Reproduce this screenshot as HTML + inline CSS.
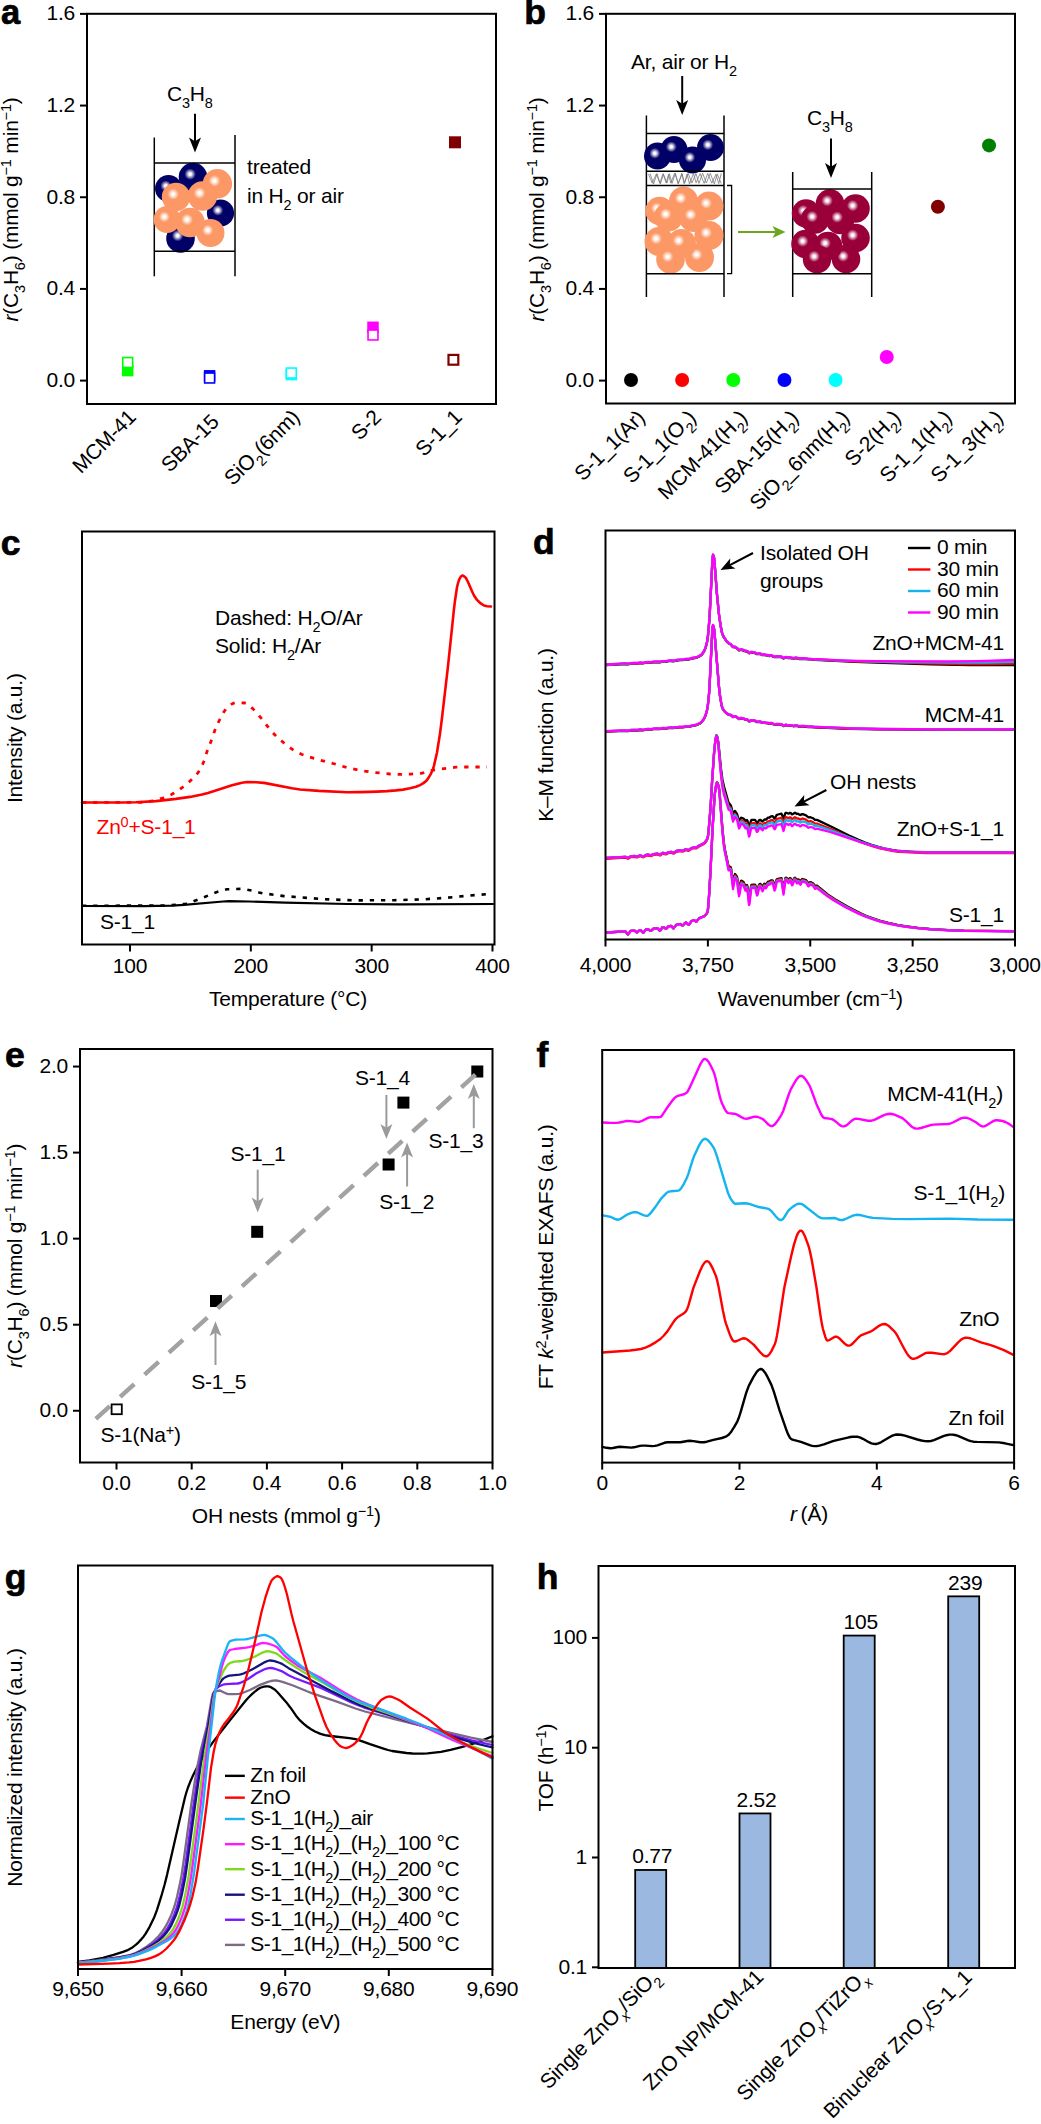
<!DOCTYPE html>
<html><head><meta charset="utf-8"><style>
html,body{margin:0;padding:0;background:#fff;}
svg{display:block;font-family:"Liberation Sans",sans-serif;}
text{letter-spacing:-0.2px;}
</style></head><body>
<svg width="1041" height="2124" viewBox="0 0 1041 2124">
<rect x="0" y="0" width="1041" height="2124" fill="#fff"/>
<defs>
<radialGradient id="gN" cx="0.4" cy="0.4" r="0.2" fx="0.4" fy="0.4">
<stop offset="0" stop-color="#ffffff"/><stop offset="0.25" stop-color="#f4f4fa"/><stop offset="1" stop-color="#000066"/></radialGradient>
<radialGradient id="gO" cx="0.4" cy="0.4" r="0.2" fx="0.4" fy="0.4">
<stop offset="0" stop-color="#ffffff"/><stop offset="0.25" stop-color="#fffaf6"/><stop offset="1" stop-color="#fb9866"/></radialGradient>
<radialGradient id="gR" cx="0.4" cy="0.4" r="0.2" fx="0.4" fy="0.4">
<stop offset="0" stop-color="#ffffff"/><stop offset="0.25" stop-color="#fbf2f5"/><stop offset="1" stop-color="#99003a"/></radialGradient>
</defs>
<text x="1" y="23.8" font-size="34.5" font-weight="bold" stroke="#000" stroke-width="0.7">a</text>
<line x1="80" y1="380.6" x2="87" y2="380.6" stroke="#000" stroke-width="2" />
<text x="75" y="387.1" text-anchor="end" font-size="21" fill="#000" >0.0</text>
<line x1="80" y1="288.92" x2="87" y2="288.92" stroke="#000" stroke-width="2" />
<text x="75" y="295.42" text-anchor="end" font-size="21" fill="#000" >0.4</text>
<line x1="80" y1="197.24" x2="87" y2="197.24" stroke="#000" stroke-width="2" />
<text x="75" y="203.74" text-anchor="end" font-size="21" fill="#000" >0.8</text>
<line x1="80" y1="105.56" x2="87" y2="105.56" stroke="#000" stroke-width="2" />
<text x="75" y="112.06" text-anchor="end" font-size="21" fill="#000" >1.2</text>
<line x1="80" y1="13.88" x2="87" y2="13.88" stroke="#000" stroke-width="2" />
<text x="75" y="20.38" text-anchor="end" font-size="21" fill="#000" >1.6</text>
<text transform="translate(18.4,209.5) rotate(-90)" text-anchor="middle" font-size="21"><tspan font-style="italic">r</tspan>(C<tspan font-size="14.5" baseline-shift="-7">3</tspan>H<tspan font-size="14.5" baseline-shift="-7">6</tspan>) (mmol g<tspan font-size="14.5" baseline-shift="6.7">−1</tspan> min<tspan font-size="14.5" baseline-shift="6.7">−1</tspan>)</text>
<line x1="154.3" y1="137.5" x2="154.3" y2="276.3" stroke="#000" stroke-width="1.5" />
<line x1="235" y1="135" x2="235" y2="276.3" stroke="#000" stroke-width="1.5" />
<circle cx="168.5" cy="188.5" r="13.5" fill="url(#gN)"/>
<circle cx="193" cy="177" r="14.3" fill="url(#gN)"/>
<circle cx="220.5" cy="213" r="13.6" fill="url(#gN)"/>
<circle cx="180.5" cy="238.5" r="14.3" fill="url(#gN)"/>
<circle cx="217.4" cy="183.8" r="14.7" fill="url(#gO)"/>
<circle cx="202.5" cy="196" r="14.7" fill="url(#gO)"/>
<circle cx="176" cy="197" r="14.2" fill="url(#gO)"/>
<circle cx="167" cy="219.5" r="13.5" fill="url(#gO)"/>
<circle cx="210.5" cy="233" r="14" fill="url(#gO)"/>
<circle cx="190" cy="222.5" r="14.7" fill="url(#gO)"/>
<line x1="154.3" y1="163" x2="235" y2="163" stroke="#000" stroke-width="1.5" />
<line x1="154.3" y1="251.3" x2="235" y2="251.3" stroke="#000" stroke-width="1.5" />
<line x1="195" y1="113.8" x2="195" y2="143.5" stroke="#000" stroke-width="2" />
<path d="M195 152.5 L189 137.5 L195 141.25 L201 137.5 Z" fill="#000"/>
<text x="167" y="101.3" text-anchor="start" font-size="21" fill="#000" >C<tspan font-size="14.5" baseline-shift="-7">3</tspan>H<tspan font-size="14.5" baseline-shift="-7">8</tspan></text>
<text x="247" y="173.5" text-anchor="start" font-size="21" fill="#000" >treated</text>
<text x="247" y="203" text-anchor="start" font-size="21" fill="#000" >in H<tspan font-size="14.5" baseline-shift="-7">2</tspan> or air</text>
<rect x="121.95" y="364.85" width="11.5" height="11.5" fill="#00ff00" stroke="none" stroke-width="0" />
<rect x="122.75" y="357.55" width="9.9" height="9.9" fill="#fff" stroke="#00ff00" stroke-width="1.6" />
<rect x="203.85" y="370.05" width="11.5" height="11.5" fill="#0000ff" stroke="none" stroke-width="0" />
<rect x="204.65" y="373.05" width="9.9" height="9.9" fill="#fff" stroke="#0000ff" stroke-width="1.6" />
<rect x="285.55" y="368.85" width="11.5" height="11.5" fill="#00ffff" stroke="none" stroke-width="0" />
<rect x="286.35" y="368.05" width="9.9" height="9.9" fill="#fff" stroke="#00ffff" stroke-width="1.6" />
<rect x="367.25" y="321.55" width="11.5" height="11.5" fill="#ff00ff" stroke="none" stroke-width="0" />
<rect x="368.05" y="330.05" width="9.9" height="9.9" fill="#fff" stroke="#ff00ff" stroke-width="1.6" />
<rect x="449" y="136.3" width="12" height="12" fill="#800000" stroke="none" stroke-width="0" />
<rect x="448.5" y="354.9" width="9.8" height="9.8" fill="#fff" stroke="#800000" stroke-width="2.2" />
<rect x="87" y="13.8" width="409" height="390.2" fill="none" stroke="#000" stroke-width="2" />
<text transform="translate(137.2,418.5) rotate(-45)" text-anchor="end" font-size="21" fill="#000">MCM-41</text>
<text transform="translate(220.1,423) rotate(-45)" text-anchor="end" font-size="21" fill="#000">SBA-15</text>
<text transform="translate(300.8,418.5) rotate(-45)" text-anchor="end" font-size="21" fill="#000">SiO<tspan font-size="14.5" baseline-shift="-7">2</tspan>(6nm)</text>
<text transform="translate(382.5,418.5) rotate(-45)" text-anchor="end" font-size="21" fill="#000">S-2</text>
<text transform="translate(463,418.5) rotate(-45)" text-anchor="end" font-size="21" fill="#000">S-1_1</text>
<text x="524.3" y="23.9" font-size="35.5" font-weight="bold" stroke="#000" stroke-width="0.7">b</text>
<line x1="599" y1="380.6" x2="606" y2="380.6" stroke="#000" stroke-width="2" />
<text x="594" y="387.1" text-anchor="end" font-size="21" fill="#000" >0.0</text>
<line x1="599" y1="288.92" x2="606" y2="288.92" stroke="#000" stroke-width="2" />
<text x="594" y="295.42" text-anchor="end" font-size="21" fill="#000" >0.4</text>
<line x1="599" y1="197.24" x2="606" y2="197.24" stroke="#000" stroke-width="2" />
<text x="594" y="203.74" text-anchor="end" font-size="21" fill="#000" >0.8</text>
<line x1="599" y1="105.56" x2="606" y2="105.56" stroke="#000" stroke-width="2" />
<text x="594" y="112.06" text-anchor="end" font-size="21" fill="#000" >1.2</text>
<line x1="599" y1="13.88" x2="606" y2="13.88" stroke="#000" stroke-width="2" />
<text x="594" y="20.38" text-anchor="end" font-size="21" fill="#000" >1.6</text>
<text transform="translate(543.7,209.5) rotate(-90)" text-anchor="middle" font-size="21"><tspan font-style="italic">r</tspan>(C<tspan font-size="14.5" baseline-shift="-7">3</tspan>H<tspan font-size="14.5" baseline-shift="-7">6</tspan>) (mmol g<tspan font-size="14.5" baseline-shift="6.7">−1</tspan> min<tspan font-size="14.5" baseline-shift="6.7">−1</tspan>)</text>
<line x1="646.4" y1="115.5" x2="646.4" y2="297" stroke="#000" stroke-width="1.5" />
<line x1="724" y1="115.5" x2="724" y2="297" stroke="#000" stroke-width="1.5" />
<circle cx="657.5" cy="156" r="13.5" fill="url(#gN)"/>
<circle cx="674" cy="149.5" r="13.5" fill="url(#gN)"/>
<circle cx="692.5" cy="160" r="13.5" fill="url(#gN)"/>
<circle cx="710.5" cy="147.5" r="13.5" fill="url(#gN)"/>
<path d="M648.5 173.95 L652.18 183.05 L656.27 174.09 L660.31 183.97 L663.44 174.33 L666.94 182.92 L669.37 173.76 L672.06 183.35 L675.41 173.22 L678.04 183.66 L682.08 174.12 L684.6 183.04 L687.07 173.94 L689.53 184 L693.47 173.45 L696.1 182.82 L700.04 173.55 L704.17 183.35 L707.72 173.45 L711.81 183.17 L715.94 174.27 L718.74 183.57 L721.27 173.37" fill="none" stroke="#7a7a7a" stroke-width="0.8"/>
<path d="M650.1 173.56 L653.51 184 L657.06 173.61 L659.88 183.02 L663.04 173.58 L666.21 183.15 L668.52 174.37 L670.77 183.1 L674.66 173.22 L678.43 183.56 L681.79 173.21 L684.08 183.78 L688.19 173.44 L691.9 182.88 L695.99 173.61 L698.9 183.37 L702.65 173.33 L706.34 183.04 L710.26 173.24 L714.36 183.89 L717.24 173.93 L721.27 183.59" fill="none" stroke="#7a7a7a" stroke-width="0.8"/>
<circle cx="659.5" cy="211" r="14.2" fill="url(#gO)"/>
<circle cx="709" cy="206" r="14.5" fill="url(#gO)"/>
<circle cx="683.5" cy="201" r="14.5" fill="url(#gO)"/>
<circle cx="668.5" cy="217" r="14.5" fill="url(#gO)"/>
<circle cx="693.5" cy="217.5" r="14.5" fill="url(#gO)"/>
<circle cx="709" cy="235.5" r="14.5" fill="url(#gO)"/>
<circle cx="659" cy="241.5" r="14.5" fill="url(#gO)"/>
<circle cx="699.5" cy="257.5" r="14.5" fill="url(#gO)"/>
<circle cx="681.5" cy="243.5" r="14.5" fill="url(#gO)"/>
<circle cx="670.5" cy="259.5" r="14.3" fill="url(#gO)"/>
<line x1="646.4" y1="133.6" x2="724" y2="133.6" stroke="#000" stroke-width="1.5" />
<line x1="646.4" y1="171.2" x2="724" y2="171.2" stroke="#000" stroke-width="1.5" />
<line x1="646.4" y1="185.5" x2="724" y2="185.5" stroke="#000" stroke-width="1.5" />
<line x1="646.4" y1="273.7" x2="724" y2="273.7" stroke="#000" stroke-width="1.5" />
<path d="M727 185.5 H731.6 V273.7 H727" fill="none" stroke="#000" stroke-width="1.3"/>
<line x1="738" y1="232" x2="777.7" y2="232" stroke="#6aa61e" stroke-width="2.2" />
<path d="M785.5 232 L772.5 238 L775.75 232 L772.5 226 Z" fill="#6aa61e"/>
<line x1="682.2" y1="76" x2="682.2" y2="106" stroke="#000" stroke-width="2" />
<path d="M682.2 115 L676.2 100 L682.2 103.75 L688.2 100 Z" fill="#000"/>
<text x="631" y="68.8" text-anchor="start" font-size="21" fill="#000" >Ar, air or H<tspan font-size="14.5" baseline-shift="-7">2</tspan></text>
<line x1="792.7" y1="172" x2="792.7" y2="297" stroke="#000" stroke-width="1.5" />
<line x1="871.7" y1="172" x2="871.7" y2="297" stroke="#000" stroke-width="1.5" />
<circle cx="806" cy="213.5" r="14.2" fill="url(#gR)"/>
<circle cx="855.5" cy="208.5" r="14.3" fill="url(#gR)"/>
<circle cx="830" cy="203.5" r="14.3" fill="url(#gR)"/>
<circle cx="815" cy="219.5" r="14.3" fill="url(#gR)"/>
<circle cx="840" cy="220" r="14.3" fill="url(#gR)"/>
<circle cx="855.5" cy="238" r="14.3" fill="url(#gR)"/>
<circle cx="805.5" cy="244" r="14.3" fill="url(#gR)"/>
<circle cx="846" cy="259" r="14.3" fill="url(#gR)"/>
<circle cx="828" cy="246" r="14.3" fill="url(#gR)"/>
<circle cx="817" cy="259.2" r="14.2" fill="url(#gR)"/>
<line x1="792.7" y1="189" x2="871.7" y2="189" stroke="#000" stroke-width="1.5" />
<line x1="792.7" y1="273.7" x2="871.7" y2="273.7" stroke="#000" stroke-width="1.5" />
<line x1="831" y1="138.4" x2="831" y2="169" stroke="#000" stroke-width="2" />
<path d="M831 178 L825 163 L831 166.75 L837 163 Z" fill="#000"/>
<text x="807" y="125" text-anchor="start" font-size="21" fill="#000" >C<tspan font-size="14.5" baseline-shift="-7">3</tspan>H<tspan font-size="14.5" baseline-shift="-7">8</tspan></text>
<circle cx="631" cy="380" r="7" fill="#000000"/>
<circle cx="682.15" cy="380" r="7" fill="#ff0000"/>
<circle cx="733.3" cy="380" r="7" fill="#00ff00"/>
<circle cx="784.45" cy="380" r="7" fill="#0000ff"/>
<circle cx="835.6" cy="380" r="7" fill="#00ffff"/>
<circle cx="886.75" cy="357" r="7" fill="#ff00ff"/>
<circle cx="937.9" cy="206.8" r="7" fill="#800000"/>
<circle cx="989.05" cy="145.4" r="7" fill="#008000"/>
<rect x="606" y="13.8" width="409" height="389.7" fill="none" stroke="#000" stroke-width="2" />
<text transform="translate(646,419) rotate(-45)" text-anchor="end" font-size="21" fill="#000">S-1_1(Ar)</text>
<text transform="translate(697.15,419) rotate(-45)" text-anchor="end" font-size="21" fill="#000">S-1_1(O<tspan font-size="14.5" baseline-shift="-7">2</tspan>)</text>
<text transform="translate(748.3,419) rotate(-45)" text-anchor="end" font-size="21" fill="#000">MCM-41(H<tspan font-size="14.5" baseline-shift="-7">2</tspan>)</text>
<text transform="translate(799.45,419) rotate(-45)" text-anchor="end" font-size="21" fill="#000">SBA-15(H<tspan font-size="14.5" baseline-shift="-7">2</tspan>)</text>
<text transform="translate(850.6,419) rotate(-45)" text-anchor="end" font-size="21" fill="#000">SiO<tspan font-size="14.5" baseline-shift="-7">2</tspan>_6nm(H<tspan font-size="14.5" baseline-shift="-7">2</tspan>)</text>
<text transform="translate(901.75,419) rotate(-45)" text-anchor="end" font-size="21" fill="#000">S-2(H<tspan font-size="14.5" baseline-shift="-7">2</tspan>)</text>
<text transform="translate(952.9,419) rotate(-45)" text-anchor="end" font-size="21" fill="#000">S-1_1(H<tspan font-size="14.5" baseline-shift="-7">2</tspan>)</text>
<text transform="translate(1004.05,419) rotate(-45)" text-anchor="end" font-size="21" fill="#000">S-1_3(H<tspan font-size="14.5" baseline-shift="-7">2</tspan>)</text>
<text x="0.8" y="554.6" font-size="35.5" font-weight="bold" stroke="#000" stroke-width="0.7">c</text>
<line x1="130" y1="944.5" x2="130" y2="951.5" stroke="#000" stroke-width="2" />
<text x="130" y="972.5" text-anchor="middle" font-size="21" fill="#000" >100</text>
<line x1="250.83" y1="944.5" x2="250.83" y2="951.5" stroke="#000" stroke-width="2" />
<text x="250.83" y="972.5" text-anchor="middle" font-size="21" fill="#000" >200</text>
<line x1="371.66" y1="944.5" x2="371.66" y2="951.5" stroke="#000" stroke-width="2" />
<text x="371.66" y="972.5" text-anchor="middle" font-size="21" fill="#000" >300</text>
<line x1="492.49" y1="944.5" x2="492.49" y2="951.5" stroke="#000" stroke-width="2" />
<text x="492.49" y="972.5" text-anchor="middle" font-size="21" fill="#000" >400</text>
<text x="288" y="1005.7" text-anchor="middle" font-size="21" fill="#000" >Temperature (°C)</text>
<text transform="translate(22.1,738.2) rotate(-90)" text-anchor="middle" font-size="21">Intensity (a.u.)</text>
<text x="215" y="624.5" text-anchor="start" font-size="21" fill="#000" >Dashed: H<tspan font-size="14.5" baseline-shift="-7">2</tspan>O/Ar</text>
<text x="215" y="652.5" text-anchor="start" font-size="21" fill="#000" >Solid: H<tspan font-size="14.5" baseline-shift="-7">2</tspan>/Ar</text>
<text x="96.5" y="834" text-anchor="start" font-size="21" fill="#ff0000" >Zn<tspan font-size="14.5" baseline-shift="6.7">0</tspan>+S-1_1</text>
<text x="100" y="929" text-anchor="start" font-size="21" fill="#000" >S-1_1</text>
<path d="M82 802.5 L140 802.4 L146 802 L154 800.7 L163 798 L167 796.5 L171 794.7 L174 793.1 L177 791.3 L184 786.3 L189 782.1 L195 776.3 L197 774 L199 771.2 L202 765.7 L204 761.1 L207 751.6 L212 738.7 L215 729.9 L217 725.1 L220 719 L224 711.8 L226 708.9 L228 707 L231 704.6 L233 703.4 L235 702.7 L240 702.8 L245 703 L246 703.3 L248 704.6 L253 708.9 L256 712 L262 719.1 L270 729.6 L275 735 L279 738.8 L284 743 L291 748.4 L296 751.7 L302 754.5 L310 757.2 L319 759.9 L335 764 L348 767.9 L360 770.4 L372 772.2 L390 774 L401 774.4 L411 774.1 L421 773.4 L424 772.6 L430 770.7 L433 770.1 L440 769.1 L456 767.2 L461 767 L487 767" fill="none" stroke="#ff0000" stroke-width="2.8" stroke-linejoin="round" stroke-dasharray="4.3 6.9" stroke-linecap="butt"/>
<path d="M82 802.5 L122 802.5 L136 802.2 L156 801.1 L176 798.9 L190 796.9 L202 794.5 L208 792.9 L232 785.3 L242 782.7 L247 782 L256 782.3 L264 782.9 L292 788.3 L300 789.5 L319 790.9 L347 792.2 L360 792.1 L377 791.6 L387 791.1 L396 790.4 L403 789.6 L410 788.3 L416 786.7 L420 785.1 L423 783.4 L426 781.1 L428 778.7 L431 773.6 L433 768.9 L434 765.6 L437 752.5 L440 733.6 L442 717.8 L448 666.2 L454 608.8 L455 600.7 L457 587.3 L458 583.2 L459 580.1 L460 578 L461 576.5 L462 575.6 L463 575.6 L465 577 L466 578.2 L468 582 L472 591.3 L474 595.5 L477 599.9 L480 602.8 L484 605.5 L487 606.2 L491 606.5" fill="none" stroke="#ff0000" stroke-width="2.6" stroke-linejoin="round" stroke-linecap="round" />
<path d="M82 905.8 L165 905.5 L170 905.3 L181 904.4 L186 903.7 L190 902.6 L202 898.1 L215 892.7 L222 890.4 L227 889.3 L234 889 L241 888.9 L245 889.3 L252 890.6 L259 892.5 L263 893.3 L284 896.1 L325 899.2 L354 900.4 L394 900.2 L423 899.4 L446 897.8 L470 895.5 L490 894" fill="none" stroke="#000" stroke-width="2.6" stroke-linejoin="round" stroke-dasharray="4.3 6.9" stroke-linecap="butt"/>
<path d="M82 906 L144 906.1 L172 905.7 L184 904.9 L223 901.5 L229 901.2 L249 901.5 L285 902.7 L348 904 L400 904.3 L493 904" fill="none" stroke="#000" stroke-width="2.2" stroke-linejoin="round" stroke-linecap="round" />
<rect x="82" y="531.5" width="412.5" height="413" fill="none" stroke="#000" stroke-width="2" />
<text x="532.9" y="554" font-size="35.5" font-weight="bold" stroke="#000" stroke-width="0.7">d</text>
<line x1="605.5" y1="939.5" x2="605.5" y2="946.5" stroke="#000" stroke-width="2" />
<text x="605.5" y="972" text-anchor="middle" font-size="21" fill="#000" >4,000</text>
<line x1="707.88" y1="939.5" x2="707.88" y2="946.5" stroke="#000" stroke-width="2" />
<text x="707.88" y="972" text-anchor="middle" font-size="21" fill="#000" >3,750</text>
<line x1="810.25" y1="939.5" x2="810.25" y2="946.5" stroke="#000" stroke-width="2" />
<text x="810.25" y="972" text-anchor="middle" font-size="21" fill="#000" >3,500</text>
<line x1="912.62" y1="939.5" x2="912.62" y2="946.5" stroke="#000" stroke-width="2" />
<text x="912.62" y="972" text-anchor="middle" font-size="21" fill="#000" >3,250</text>
<line x1="1015" y1="939.5" x2="1015" y2="946.5" stroke="#000" stroke-width="2" />
<text x="1015" y="972" text-anchor="middle" font-size="21" fill="#000" >3,000</text>
<text x="810.3" y="1005.5" text-anchor="middle" font-size="21" fill="#000" >Wavenumber (cm<tspan font-size="14.5" baseline-shift="6.7">−1</tspan>)</text>
<text transform="translate(552.9,735) rotate(-90)" text-anchor="middle" font-size="21">K–M function (a.u.)</text>
<path d="M606.5 665.1 L625 664 L628 664.3 L631 663.7 L634.5 663.4 L637 663.6 L640.5 663.1 L643 663.4 L646 662.7 L648 662.6 L651 662.7 L653.5 662.3 L657 662.1 L660 662.3 L662.5 661.7 L666 661.8 L668.5 661.2 L671 661 L673.5 661.3 L676.5 660.5 L680 660.2 L682.5 660.2 L686 659.5 L689 659.5 L691.5 658.6 L696.5 657.8 L700 656.1 L701.5 655 L702.5 653.8 L704 651.6 L705.5 648.2 L707 642.6 L708 635.8 L709.5 618.7 L712 568.6 L712.5 559.8 L713 555.1 L713.5 555.9 L714 557.8 L714.5 562.1 L717 594.9 L719 614.9 L720.5 625.3 L722 633.1 L723.5 636.8 L726.5 641.4 L728.5 643.3 L731 644.9 L733 647.2 L735 647.2 L735.5 647.5 L737.5 648.9 L739 650.3 L741 649.8 L741.5 649.9 L745.5 651.3 L747 651.5 L747.5 651.7 L749 653.1 L749.5 653.2 L751 652.5 L754 652.7 L757 654.2 L759.5 654 L760.5 654.2 L762.5 655.1 L764.5 655 L766 655.4 L768 655.6 L769.5 656.2 L770.5 655.8 L771 655.8 L774.5 657.2 L777 656.8 L781.5 657.1 L783.5 658.5 L785.5 657.6 L788.5 658 L790 658 L791.5 658.3 L792.5 658.2 L793.5 658.6 L795.5 658.1 L797.5 658.4 L799 659 L802.5 658.8 L808.5 659.4 L810.5 659.4 L815 659.9 L855 661.8 L883.5 662.9 L931 664.4 L970.5 665.2 L1014 665.1" fill="none" stroke="#000000" stroke-width="2.3" stroke-linejoin="round" stroke-linecap="round" />
<path d="M606.5 664.8 L625 663.7 L628 664 L631 663.4 L634.5 663.1 L637 663.3 L640.5 662.8 L643 663.1 L646 662.4 L648 662.3 L651 662.4 L653.5 662 L657 661.8 L660 662 L662.5 661.4 L666 661.5 L668.5 660.9 L671 660.7 L673.5 661 L676.5 660.2 L680 659.9 L682.5 659.9 L686 659.2 L689 659.2 L691.5 658.3 L696.5 657.5 L700 655.8 L701.5 654.7 L702.5 653.5 L704 651.3 L705.5 647.9 L707 642.3 L708 635.5 L709.5 618.4 L712 568.3 L712.5 559.5 L713 554.8 L713.5 555.6 L714 557.5 L714.5 561.8 L717 594.6 L719 614.6 L720.5 625 L722 632.8 L723.5 636.5 L726.5 641.1 L728.5 643.1 L731 644.6 L733 647 L735 646.9 L735.5 647.2 L737.5 648.6 L739 650.1 L741 649.5 L741.5 649.6 L743.5 650.2 L745.5 651 L747 651.2 L747.5 651.4 L749 653 L749.5 653 L751 652.2 L754 652.4 L757 653.9 L759.5 653.7 L760.5 653.9 L762.5 654.8 L764.5 654.7 L766 655.2 L768 655.3 L769.5 655.9 L770.5 655.5 L771 655.5 L774.5 656.9 L777 656.5 L781.5 656.8 L783.5 658.3 L785.5 657.3 L788.5 657.7 L790.5 657.7 L793.5 658.3 L795.5 657.8 L797.5 658.1 L799 658.7 L802.5 658.5 L806 658.7 L808.5 659.2 L810.5 659.1 L815 659.6 L817 659.5 L852 661.3 L879.5 662.2 L924.5 663.4 L968 664 L989.5 664 L1014 663.6" fill="none" stroke="#ff0000" stroke-width="2.3" stroke-linejoin="round" stroke-linecap="round" />
<path d="M606.5 664.6 L625 663.5 L628 663.8 L631 663.2 L634.5 662.9 L637 663.1 L640.5 662.6 L643 662.9 L646 662.2 L648 662.1 L651 662.2 L653.5 661.8 L657 661.6 L660 661.8 L662.5 661.2 L666 661.3 L668.5 660.7 L671 660.5 L673.5 660.8 L676.5 660 L680 659.7 L682.5 659.7 L686 659 L689 659 L691.5 658.1 L696.5 657.3 L700 655.6 L701.5 654.5 L702.5 653.3 L704 651.1 L705.5 647.7 L707 642.1 L708 635.3 L709.5 618.2 L712 568.1 L712.5 559.3 L713 554.6 L713.5 555.4 L714 557.3 L714.5 561.6 L717 594.4 L719 614.4 L720.5 624.8 L722 632.6 L722.5 634.1 L724 637.2 L726 640.2 L727 641.4 L728.5 642.9 L731 644.4 L733 646.9 L735 646.7 L735.5 647 L737.5 648.4 L739 650 L741 649.3 L741.5 649.4 L743.5 650 L745.5 650.9 L747 651 L747.5 651.3 L749 652.9 L749.5 653 L751 652 L751.5 651.9 L754 652.2 L755 652.6 L757 653.8 L759.5 653.5 L760.5 653.7 L762.5 654.7 L764.5 654.5 L766 655 L768 655.1 L769.5 655.7 L770.5 655.3 L771 655.3 L773 656 L774.5 656.8 L777 656.3 L781.5 656.6 L783.5 658.2 L785.5 657.1 L788.5 657.6 L790.5 657.5 L793.5 658.1 L795.5 657.6 L797.5 657.9 L799 658.5 L802.5 658.3 L806 658.5 L808.5 659 L810.5 658.9 L815 659.4 L817 659.3 L830.5 660.1 L858 661.2 L896 662 L960.5 662.7 L985.5 662.5 L1014 661.8" fill="none" stroke="#15b4f0" stroke-width="2.3" stroke-linejoin="round" stroke-linecap="round" />
<path d="M606.5 664.5 L625 663.4 L628 663.7 L631 663.1 L634.5 662.8 L637 663 L640.5 662.5 L643 662.8 L646 662.1 L648 662 L651 662.1 L653.5 661.7 L657 661.5 L660 661.7 L662.5 661.1 L666 661.2 L668.5 660.6 L671 660.4 L673.5 660.7 L676.5 659.9 L680 659.6 L682.5 659.6 L686 658.9 L689 658.9 L691.5 658 L696.5 657.2 L700 655.5 L701.5 654.4 L702.5 653.2 L704 651 L705.5 647.6 L707 642 L708 635.2 L709.5 618.1 L712 568 L712.5 559.2 L713 554.5 L713.5 555.3 L714 557.2 L714.5 561.5 L717 594.3 L719 614.3 L720.5 624.7 L722 632.5 L723 635.2 L724.5 637.9 L726.5 640.8 L728.5 642.9 L731 644.3 L733 646.9 L735 646.6 L737 647.9 L739 650 L741 649.2 L741.5 649.3 L743.5 649.9 L745.5 650.8 L747 650.9 L747.5 651.2 L749 653 L749.5 653 L751 651.9 L751.5 651.8 L754.5 652.3 L757 653.8 L759.5 653.4 L760.5 653.6 L762.5 654.6 L764.5 654.4 L766 654.9 L768 655 L769.5 655.6 L770.5 655.2 L771 655.2 L773 655.9 L774.5 656.8 L777 656.2 L781.5 656.5 L783.5 658.2 L785.5 657 L788.5 657.5 L790.5 657.4 L791.5 657.8 L792.5 657.8 L793.5 658 L795.5 657.5 L797.5 657.8 L799 658.4 L802.5 658.2 L806 658.4 L808.5 658.9 L810.5 658.8 L815 659.3 L817 659.2 L840 660.4 L856.5 660.9 L877.5 661.2 L948.5 661.5 L978.5 661.1 L1014 660" fill="none" stroke="#ff00ff" stroke-width="2.3" stroke-linejoin="round" stroke-linecap="round" />
<path d="M606.5 731.7 L625 730.8 L628 731.1 L631 730.5 L634.5 730.3 L637 730.5 L640.5 730 L643 730.3 L646 729.6 L648 729.5 L651 729.6 L653.5 729.2 L657 728.9 L660 729.2 L662.5 728.5 L666 728.6 L668.5 728.1 L671 727.9 L673.5 728.2 L676.5 727.6 L680 727.3 L682.5 727.4 L686 726.8 L689 726.9 L691.5 726.1 L696.5 725.2 L700 723.5 L701.5 722.4 L704 719 L705.5 715.8 L707 710.5 L708 704.2 L709 694.5 L709.5 687.4 L712 636.5 L712.5 629.2 L713 625.5 L713.5 626.5 L714 628.7 L714.5 632.9 L719 687.5 L720 696.1 L721.5 705.1 L722 707.2 L723 709.4 L724 710.9 L726 713.1 L728.5 714.7 L731 715.3 L733 717.1 L735 716.6 L735.5 716.8 L737.5 717.8 L739 719.1 L741 718.3 L743.5 718.9 L745.5 719.6 L747 719.8 L747.5 720 L749 721.4 L749.5 721.4 L751 720.6 L754 720.8 L757 722.1 L759.5 721.9 L760.5 722.1 L762.5 722.9 L764.5 722.8 L766 723.2 L768 723.3 L769.5 723.8 L770.5 723.4 L771 723.4 L774.5 724.8 L777 724.4 L781.5 724.7 L783.5 726.1 L785.5 725.2 L788.5 725.7 L790 725.6 L791.5 725.9 L792.5 725.9 L793.5 726.3 L795.5 725.8 L797.5 726.1 L799 726.7 L802.5 726.5 L808.5 727.1 L810.5 727 L815 727.4 L849 728.8 L878 729.4 L937 729.9 L1014 729.8" fill="none" stroke="#000000" stroke-width="2.3" stroke-linejoin="round" stroke-linecap="round" />
<path d="M606.5 731.4 L625 730.5 L628 730.8 L631 730.2 L634.5 730 L637 730.2 L640.5 729.7 L643 730 L646 729.3 L648 729.2 L651 729.3 L653.5 728.9 L657 728.6 L660 728.9 L662.5 728.2 L666 728.3 L668.5 727.8 L671 727.6 L673.5 727.9 L676.5 727.3 L680 727 L682.5 727.1 L686 726.5 L689 726.6 L691.5 725.8 L696.5 724.9 L700 723.2 L701.5 722.1 L704 718.7 L705.5 715.5 L707 710.2 L708 703.9 L709 694.2 L709.5 687.1 L712 636.2 L712.5 628.9 L713 625.2 L713.5 626.2 L714 628.4 L714.5 632.6 L719 687.2 L720 695.8 L721.5 704.8 L722.5 708.2 L723.5 709.9 L725 711.7 L726.5 713.2 L728.5 714.4 L731 715 L733 716.9 L735 716.3 L735.5 716.5 L737.5 717.6 L739 718.9 L741 718 L743.5 718.6 L745.5 719.4 L747 719.5 L747.5 719.7 L749 721.2 L749.5 721.2 L751 720.4 L754 720.5 L757 721.9 L759.5 721.6 L760.5 721.8 L762.5 722.7 L764.5 722.5 L766 722.9 L768 723 L769.5 723.5 L770.5 723.1 L771 723.1 L773 723.8 L774.5 724.5 L777 724.1 L781.5 724.4 L783.5 725.9 L785.5 724.9 L788.5 725.4 L790.5 725.4 L793.5 726 L795.5 725.5 L797.5 725.8 L799 726.4 L802.5 726.2 L806 726.4 L808.5 726.8 L810.5 726.7 L815 727.1 L817 727.1 L849.5 728.5 L879.5 729.2 L937.5 729.6 L1014 729.5" fill="none" stroke="#ff0000" stroke-width="2.3" stroke-linejoin="round" stroke-linecap="round" />
<path d="M606.5 731.2 L625 730.3 L628 730.6 L631 730 L634.5 729.8 L637 730 L640.5 729.5 L643 729.8 L646 729.1 L648 729 L651 729.1 L653.5 728.7 L657 728.4 L660 728.7 L662.5 728 L666 728.1 L668.5 727.6 L671 727.4 L673.5 727.7 L676.5 727.1 L680 726.8 L682.5 726.9 L686 726.3 L689 726.4 L691.5 725.6 L696.5 724.7 L700 723 L701.5 721.9 L704 718.5 L705.5 715.3 L707 710 L708 703.7 L709 694 L709.5 686.9 L712 636 L712.5 628.7 L713 625 L713.5 626 L714 628.2 L714.5 632.4 L719 687 L720 695.6 L721.5 704.6 L722.5 708 L723.5 709.7 L725 711.5 L726.5 713 L728.5 714.2 L731 714.8 L733 716.8 L735 716.1 L737 717 L739 718.8 L741 717.8 L743.5 718.4 L745.5 719.2 L747 719.3 L747.5 719.5 L749 721.2 L749.5 721.2 L751 720.2 L754 720.3 L755 720.6 L757 721.8 L759.5 721.4 L760.5 721.6 L762.5 722.5 L764.5 722.3 L766 722.7 L768 722.8 L769.5 723.3 L770.5 722.9 L771 722.9 L773 723.6 L774.5 724.4 L777 723.9 L781.5 724.2 L783.5 725.8 L785.5 724.7 L788.5 725.2 L790.5 725.2 L793.5 725.8 L795.5 725.3 L797.5 725.6 L799 726.2 L802.5 726 L806 726.2 L808.5 726.6 L810.5 726.5 L815 726.9 L817 726.9 L852.5 728.4 L881 729 L938.5 729.4 L1014 729.3" fill="none" stroke="#15b4f0" stroke-width="2.3" stroke-linejoin="round" stroke-linecap="round" />
<path d="M606.5 731.2 L625 730.3 L628 730.6 L631 730 L634.5 729.8 L637 730 L640.5 729.5 L643 729.8 L646 729.1 L648 729 L651 729.1 L653.5 728.7 L657 728.4 L660 728.7 L662.5 728 L666 728.1 L668.5 727.6 L671 727.4 L673.5 727.7 L676.5 727.1 L680 726.8 L682.5 726.9 L686 726.3 L689 726.4 L691.5 725.6 L696.5 724.7 L700 723 L701.5 721.9 L704 718.5 L705.5 715.3 L707 710 L708 703.7 L709 694 L709.5 686.9 L712 636 L712.5 628.7 L713 625 L713.5 626 L714 628.2 L714.5 632.4 L719 687 L720 695.6 L721.5 704.6 L722.5 708 L723.5 709.7 L725 711.5 L726.5 713 L728.5 714.3 L731 714.8 L733 716.9 L735 716.1 L737 717 L739 718.9 L741 717.8 L743.5 718.4 L745.5 719.2 L747 719.3 L747.5 719.6 L749 721.3 L749.5 721.3 L751 720.2 L754 720.3 L755 720.6 L757 721.8 L759.5 721.4 L760.5 721.6 L762.5 722.6 L764.5 722.3 L766 722.8 L768 722.8 L769.5 723.3 L770.5 722.9 L771 722.9 L773 723.6 L774.5 724.5 L777 723.9 L781.5 724.2 L783.5 725.9 L785.5 724.7 L788.5 725.3 L790.5 725.2 L791.5 725.5 L793.5 725.8 L795.5 725.3 L797.5 725.7 L799 726.2 L802.5 726 L806 726.2 L808.5 726.6 L810.5 726.5 L815 726.9 L817 726.9 L853 728.4 L882 729 L939 729.4 L1014 729.3" fill="none" stroke="#ff00ff" stroke-width="2.3" stroke-linejoin="round" stroke-linecap="round" />
<path d="M606.5 858 L625 856.8 L625.5 856.8 L628 858 L630.5 856.4 L631 856.3 L634.5 856 L637 856.7 L639.5 855.6 L640.5 855.5 L643 856.5 L643.5 856.4 L646 854.9 L648 854.7 L651 855.3 L653.5 854.1 L657 853.7 L660 854.7 L662.5 853 L663.5 853 L666 853.6 L668.5 852.3 L671 851.9 L673.5 852.9 L676.5 851 L680 850.4 L682.5 850.9 L685 849.6 L686 849.3 L688.5 850 L689 849.9 L691.5 848 L694 847.4 L696.5 847.5 L699 845.7 L703 843.7 L704.5 842.6 L705.5 841.6 L706.5 840.2 L707.5 838 L708 835.7 L708.5 831.8 L710.5 808.2 L712 782.8 L714 753.6 L715 743.5 L716 736.7 L716.5 735.3 L717 735.8 L717.5 737.5 L718.5 743.5 L721 768.8 L722.5 780 L724 786.6 L728.5 802.5 L731 805.7 L733 813.8 L735 811 L737 813.8 L739 821 L739.5 820.6 L741 817.7 L741.5 817.8 L743.5 818.6 L745.5 820.8 L747 820 L747.5 820.8 L749 826.4 L749.5 826 L751 820.7 L751.5 820 L754 819.8 L755 819.9 L757 823 L757.5 822.9 L759 820.3 L759.5 820 L760.5 820 L762.5 821.6 L764.5 819.4 L766 819.6 L768 817.7 L769.5 817.5 L771 816.4 L772.5 816.2 L773 816.5 L774.5 818.6 L775 818.2 L776.5 815.2 L777 814.8 L778 814.5 L781.5 813.6 L783.5 818.5 L785.5 812.9 L786.5 812.8 L788.5 813.7 L790 812.8 L790.5 812.8 L792 814.4 L793.5 813.7 L794.5 812.9 L795 812.7 L797 814 L798 813.7 L800 814.9 L800.5 815 L802 814.1 L802.5 814.1 L803.5 814.4 L806 815.3 L808.5 817.3 L810.5 817.2 L813 818.2 L815 819.8 L817 819.9 L831.5 826.7 L848.5 835.3 L858 839.6 L864.5 842.3 L871.5 844.8 L878.5 846.9 L884 848.3 L892 849.9 L897 850.7 L902 851.1 L914 851.8 L925 852.2 L958.5 852.5 L1014 852.5" fill="none" stroke="#000000" stroke-width="2.3" stroke-linejoin="round" stroke-linecap="round" />
<path d="M606.5 858.8 L625 857.6 L625.5 857.6 L628 858.8 L630.5 857.2 L631 857.1 L634.5 856.8 L637 857.5 L639.5 856.4 L640.5 856.3 L643 857.3 L643.5 857.2 L646 855.7 L648 855.5 L651 856.1 L653.5 854.9 L657 854.5 L660 855.5 L662.5 853.8 L663.5 853.8 L666 854.4 L668.5 853.1 L671 852.7 L673.5 853.7 L676.5 851.8 L680 851.2 L682.5 851.7 L685 850.4 L686 850.1 L688.5 850.8 L689 850.7 L691.5 848.8 L694 848.2 L696.5 848.3 L699 846.5 L703 844.5 L704.5 843.4 L705.5 842.4 L706.5 841 L707.5 838.8 L708 836.5 L708.5 832.6 L710.5 809 L712 783.6 L714 754.4 L715 744.3 L716 737.7 L716.5 736.2 L717 736.8 L717.5 738.7 L718.5 745.2 L721 771.8 L722.5 783.5 L724 790.1 L728.5 805.6 L729.5 806.9 L730.5 807.7 L731 808.5 L733 817.2 L735 813.8 L737 816.5 L739 824.3 L739.5 823.8 L741 820.5 L741.5 820.5 L743.5 821.5 L745.5 824.1 L747 823.4 L747.5 824.3 L749 830.5 L749.5 830.2 L751 824.3 L751.5 823.5 L754 823.2 L755 823.4 L755.5 824 L757 826.8 L757.5 826.7 L759 823.8 L759.5 823.5 L760.5 823.5 L762.5 825.3 L764 823.4 L764.5 823 L766 823.4 L768 821.4 L769.5 821.3 L771 820.2 L772.5 820.1 L773 820.6 L774.5 823 L775 822.6 L776.5 819.4 L777 818.9 L781.5 817.9 L783.5 823.5 L785.5 817.3 L786.5 817.2 L788.5 818.3 L790 817.3 L790.5 817.3 L792 819.1 L793.5 818.3 L794.5 817.3 L795 817.2 L797 818.6 L798 818.3 L800 819.5 L800.5 819.6 L802 818.6 L802.5 818.5 L803.5 818.8 L806 819.6 L808 821.4 L808.5 821.6 L810.5 821.2 L813 822.1 L815 823.7 L817 823.6 L817.5 823.8 L831.5 829.4 L847 836.4 L856.5 840.4 L866.5 844.2 L874 846.6 L880 848.3 L893.5 851.1 L898.5 851.8 L905 852.2 L925.5 853 L1014 853.2" fill="none" stroke="#ff0000" stroke-width="2.3" stroke-linejoin="round" stroke-linecap="round" />
<path d="M606.5 858 L625 856.8 L625.5 856.8 L628 858 L630.5 856.4 L631 856.3 L634.5 856 L637 856.7 L639.5 855.6 L640.5 855.5 L643 856.5 L643.5 856.4 L646 854.9 L648 854.7 L651 855.3 L653.5 854.1 L657 853.7 L660 854.7 L662.5 853 L663.5 853 L666 853.6 L668.5 852.3 L671 851.9 L673.5 852.9 L676.5 851 L680 850.4 L682.5 850.9 L685 849.6 L686 849.3 L688.5 850 L689 849.9 L691.5 848 L694 847.4 L696.5 847.5 L699 845.7 L703 843.7 L704.5 842.6 L705.5 841.6 L706.5 840.2 L707.5 838 L708 835.7 L708.5 831.8 L710.5 808.2 L712 782.8 L714 753.5 L715 743.5 L716 737 L716.5 735.6 L717 736.3 L718 741.2 L721 773.2 L722.5 785.3 L724 792 L728.5 807.2 L729.5 808.2 L730.5 808.9 L731 809.7 L733 819 L735 815 L737 817.7 L739 826 L739.5 825.4 L741 821.7 L741.5 821.7 L743.5 822.9 L745.5 825.8 L747 825.1 L747.5 826.2 L749 833.1 L749.5 832.7 L751 826.2 L751.5 825.3 L754 825.1 L755 825.3 L755.5 825.9 L757 829 L757.5 828.8 L759 825.7 L759.5 825.3 L760.5 825.3 L762.5 827.4 L764 825.4 L764.5 825 L766 825.5 L768 823.5 L769.5 823.4 L771 822.5 L772.5 822.4 L773 823 L774.5 825.7 L775 825.4 L776.5 822 L777 821.5 L781.5 820.7 L783.5 826.9 L785.5 820.2 L786.5 820 L788.5 821.3 L790 820.2 L790.5 820.2 L792 822.2 L792.5 822 L794.5 820.2 L795 820.1 L797 821.6 L798 821.2 L799 821.7 L800 822.5 L800.5 822.6 L802 821.5 L802.5 821.3 L806 822.3 L808 824.1 L808.5 824.3 L810.5 823.7 L813 824.5 L815 826 L817 825.7 L823.5 827.8 L834 831.5 L861.5 842 L870 844.9 L882 848.2 L894.5 850.6 L899 851.1 L906.5 851.6 L925.5 852.3 L1014 852.4" fill="none" stroke="#15b4f0" stroke-width="2.3" stroke-linejoin="round" stroke-linecap="round" />
<path d="M606.5 858 L625 856.8 L625.5 856.8 L628 858 L630.5 856.4 L631 856.3 L634.5 856 L637 856.7 L639.5 855.6 L640.5 855.5 L643 856.5 L643.5 856.4 L646 854.9 L648 854.7 L651 855.3 L653.5 854.1 L657 853.7 L660 854.7 L662.5 853 L663.5 853 L666 853.6 L668.5 852.3 L671 851.9 L673.5 852.9 L676.5 851 L680 850.4 L682.5 850.9 L685 849.6 L686 849.3 L688.5 850 L689 849.9 L691.5 848 L694 847.4 L696.5 847.5 L699 845.7 L703 843.7 L704.5 842.6 L705.5 841.6 L706.5 840.2 L707.5 838 L708 835.7 L708.5 831.8 L710.5 808.2 L712 782.8 L714 753.5 L715 743.5 L716 737.1 L716.5 735.8 L717 736.5 L718 741.8 L721 775.3 L722.5 788 L724 794.7 L728.5 809.5 L730.5 810.9 L731 811.7 L733 821.5 L735 817 L737 819.6 L739 828.4 L739.5 827.8 L741 823.6 L741.5 823.6 L743.5 825 L745.5 828.4 L747 827.7 L747.5 828.9 L749 836.5 L749.5 836 L751 828.9 L751.5 828 L754 827.8 L755 827.9 L755.5 828.7 L757 832 L757.5 831.8 L759 828.5 L759.5 828 L760.5 828 L762.5 830.3 L764 828.2 L764.5 827.8 L766 828.5 L768 826.4 L769.5 826.4 L770.5 825.7 L771 825.5 L772.5 825.6 L773 826.2 L774.5 829.3 L775 829 L776.5 825.4 L777 824.9 L781.5 824.2 L783.5 831 L785.5 823.8 L786.5 823.7 L788.5 825 L790 823.9 L790.5 824 L792 826.1 L792.5 825.9 L794.5 823.9 L795 823.7 L797 825.4 L798 825 L799 825.4 L800 826.3 L800.5 826.4 L802 825.1 L802.5 824.9 L806 825.8 L806.5 826 L808 827.6 L808.5 827.8 L810.5 827 L813 827.6 L815 829.1 L817 828.6 L830 832 L840.5 835.3 L864.5 843.5 L876.5 847 L884.5 848.9 L896 850.9 L909 851.8 L925.5 852.3 L1014 852.3" fill="none" stroke="#ff00ff" stroke-width="2.3" stroke-linejoin="round" stroke-linecap="round" />
<path d="M606.5 932.5 L625 931.4 L625.5 931.5 L628 934.4 L630.5 931.1 L631 930.9 L634.5 930.6 L637 932.5 L639.5 930.3 L640.5 930.1 L643 932.7 L643.5 932.6 L645.5 929.9 L646 929.5 L648 929.2 L650.5 930.9 L651 930.9 L653.5 928.6 L657 928.1 L657.5 928.3 L659.5 930.4 L660 930.7 L662.5 927.3 L663.5 927.2 L666 928.9 L668.5 926.4 L671 925.8 L673.5 928.4 L676 925.1 L676.5 924.8 L680 924 L682.5 925.5 L683 925.3 L685 923.1 L686 922.6 L686.5 922.8 L688.5 924.7 L689 924.7 L691.5 921.1 L693.5 920.4 L694 920.4 L696 921.4 L696.5 921.5 L699 918.4 L704 916.2 L705.5 915.1 L706.5 914 L707.5 912 L708 909.1 L709 896.3 L710.5 871.2 L712.5 830 L714.5 797.2 L715 792.5 L716 785.9 L716.5 783.6 L717 782.5 L717.5 782.8 L718 784 L719 787.8 L719.5 791.2 L722.5 829.6 L724 843.7 L725 850 L728.5 866.2 L729.5 866.8 L730.5 867 L731 868 L733 881.8 L735 874 L737 876.7 L739 888.8 L739.5 887.6 L741 880.8 L741.5 880.7 L743.5 882 L745.5 886.4 L747 885 L747.5 886.6 L749 897.7 L749.5 897.1 L751 886.4 L751.5 885 L754 884.6 L755 884.6 L755.5 885.6 L757 890.5 L757.5 890.1 L759 884.8 L759.5 884.1 L760.5 883.9 L762.5 887.2 L764 884.1 L764.5 883.6 L766 884.6 L768 881.6 L769.5 881.5 L771 880.4 L772.5 880.3 L773 881.2 L774.5 885.8 L775 885.3 L776.5 879.9 L777 879.1 L781.5 878.2 L783.5 888.5 L785.5 877.8 L786.5 877.7 L788.5 879.8 L790 878.1 L790.5 878.2 L792 881.5 L792.5 881.2 L794 878.5 L794.5 877.9 L795 877.7 L797 880.1 L798 879.3 L798.5 879.4 L799 879.7 L800 881.1 L800.5 881.3 L802 879.3 L802.5 879 L806 880.2 L806.5 880.6 L808 882.9 L808.5 883.2 L810 882.2 L810.5 882.1 L813 883.2 L815 885.9 L817 885.7 L828 894.6 L834.5 898.9 L846.5 906.1 L860 913.1 L866 915.8 L873 918.4 L880.5 920.8 L888.5 922.9 L897.5 924.9 L905 926.2 L918 927.9 L930 929 L948.5 930.1 L964 930.7 L1014 931.2" fill="none" stroke="#000000" stroke-width="2.3" stroke-linejoin="round" stroke-linecap="round" />
<path d="M606.5 932.5 L625 931.4 L625.5 931.5 L628 934.4 L630.5 931.1 L631 930.9 L634.5 930.6 L637 932.5 L639.5 930.3 L640.5 930.1 L643 932.7 L643.5 932.6 L645.5 929.9 L646 929.5 L648 929.2 L650.5 930.9 L651 930.9 L653.5 928.6 L657 928.1 L657.5 928.3 L659.5 930.4 L660 930.7 L662.5 927.3 L663.5 927.2 L666 928.9 L668.5 926.4 L671 925.8 L673.5 928.4 L676 925.1 L676.5 924.8 L680 924 L682.5 925.5 L683 925.3 L685 923.1 L686 922.6 L686.5 922.8 L688.5 924.7 L689 924.7 L691.5 921.1 L693.5 920.4 L694 920.4 L696 921.4 L696.5 921.5 L699 918.4 L704 916.2 L705.5 915.1 L706.5 914 L707.5 912 L708 909.1 L709 896.3 L710.5 871.2 L712.5 830 L714.5 797.1 L715 792.5 L716 786.1 L716.5 783.7 L717 782.7 L717.5 783 L718 784.3 L719 788.5 L719.5 792 L722.5 830.6 L723.5 840.5 L724.5 848.2 L728.5 867.6 L729.5 868 L730.5 868.1 L731 869.1 L733 884.2 L735 875.3 L737 878.1 L739 891.3 L739.5 889.9 L741 882.2 L741.5 882 L743.5 883.3 L745.5 887.9 L747 886.1 L747.5 887.9 L749 900.2 L749.5 899.4 L751 887.6 L751.5 886 L754 885.6 L755 885.6 L755.5 886.7 L757 892.2 L757.5 891.7 L759 885.9 L759.5 885.1 L760.5 884.9 L762.5 888.6 L764 885.3 L764.5 884.7 L766 885.8 L768 882.6 L769.5 882.5 L771 881.4 L772.5 881.2 L773 882.2 L774.5 887.4 L775 886.9 L776.5 880.8 L777 879.9 L781.5 879 L783.5 890.5 L785.5 878.6 L786.5 878.5 L788.5 880.9 L790 879 L790.5 879.1 L792 882.7 L792.5 882.4 L794 879.3 L794.5 878.7 L795 878.5 L797 881.2 L798 880.3 L798.5 880.3 L799 880.7 L800 882.2 L800.5 882.4 L802 880.2 L802.5 879.9 L806 881 L806.5 881.4 L808 883.9 L808.5 884.3 L810 883 L810.5 882.9 L813 884.1 L815 886.9 L817 886.6 L827.5 894.9 L834 899.2 L846 906.4 L859 913.1 L865.5 916 L872 918.4 L879.5 920.8 L887.5 922.9 L896.5 924.9 L904.5 926.3 L917.5 928 L929.5 929.1 L948 930.1 L964 930.7 L1014 931.3" fill="none" stroke="#ff0000" stroke-width="2.3" stroke-linejoin="round" stroke-linecap="round" />
<path d="M606.5 932.5 L625 931.4 L625.5 931.5 L628 934.4 L630.5 931.1 L631 930.9 L634.5 930.6 L637 932.5 L639.5 930.3 L640.5 930.1 L643 932.7 L643.5 932.6 L645.5 929.9 L646 929.5 L648 929.2 L650.5 930.9 L651 930.9 L653.5 928.6 L657 928.1 L657.5 928.3 L659.5 930.4 L660 930.7 L662.5 927.3 L663.5 927.2 L666 928.9 L668.5 926.4 L671 925.8 L673.5 928.4 L676 925.1 L676.5 924.8 L680 924 L682.5 925.5 L683 925.3 L685 923.1 L686 922.6 L686.5 922.8 L688.5 924.7 L689 924.7 L691.5 921.1 L693.5 920.4 L694 920.4 L696 921.4 L696.5 921.5 L699 918.4 L704 916.2 L705.5 915.1 L706.5 914 L707.5 912 L708 909.1 L709 896.3 L710.5 871.2 L712.5 830 L714.5 797.1 L715 792.5 L716 786.2 L716.5 783.9 L717 782.9 L717.5 783.2 L718 784.7 L719 789.1 L719.5 792.8 L722.5 831.6 L723.5 841.5 L724.5 849.2 L728.5 868.9 L729.5 869.1 L730.5 869.1 L731 870.1 L733 886.6 L735 876.7 L737 879.5 L739 893.8 L739.5 892.2 L741 883.7 L741.5 883.4 L743.5 884.6 L745.5 889.3 L747 887.3 L747.5 889.2 L749 902.6 L749.5 901.8 L751 888.7 L751.5 887 L754 886.6 L755 886.6 L755.5 887.9 L757 893.9 L757.5 893.4 L759 887 L759.5 886.1 L760.5 885.9 L762.5 890 L763 889.1 L764 886.4 L764.5 885.8 L766 887.1 L768 883.6 L769.5 883.5 L771 882.4 L772.5 882.2 L773 883.3 L774.5 889 L775 888.4 L776.5 881.8 L777 880.8 L781.5 879.8 L783.5 892.5 L785.5 879.4 L786.5 879.3 L788.5 881.9 L790 879.9 L790.5 880 L792 884 L792.5 883.7 L794 880.2 L794.5 879.5 L795 879.4 L797 882.3 L798 881.2 L798.5 881.2 L799 881.6 L800 883.4 L800.5 883.6 L802 881.1 L802.5 880.7 L806 881.8 L806.5 882.3 L808 885 L808.5 885.3 L810 883.9 L810.5 883.7 L813 884.9 L815 887.9 L817 887.4 L827.5 895.6 L834 899.9 L845.5 906.6 L858.5 913.2 L865 916.1 L872 918.7 L879.5 921.1 L887 923 L896.5 925.1 L904.5 926.5 L917.5 928.1 L929.5 929.2 L948 930.2 L964 930.8 L1014 931.3" fill="none" stroke="#15b4f0" stroke-width="2.3" stroke-linejoin="round" stroke-linecap="round" />
<path d="M606.5 932.5 L625 931.4 L625.5 931.5 L628 934.4 L630.5 931.1 L631 930.9 L634.5 930.6 L637 932.5 L639.5 930.3 L640.5 930.1 L643 932.7 L643.5 932.6 L645.5 929.9 L646 929.5 L648 929.2 L650.5 930.9 L651 930.9 L653.5 928.6 L657 928.1 L657.5 928.3 L659.5 930.4 L660 930.7 L662.5 927.3 L663.5 927.2 L666 928.9 L668.5 926.4 L671 925.8 L673.5 928.4 L676 925.1 L676.5 924.8 L680 924 L682.5 925.5 L683 925.3 L685 923.1 L686 922.6 L686.5 922.8 L688.5 924.7 L689 924.7 L691.5 921.1 L693.5 920.4 L694 920.4 L696 921.4 L696.5 921.5 L699 918.4 L704 916.2 L705.5 915.1 L706.5 914 L707.5 912 L708 909.1 L709 896.3 L710.5 871.2 L712.5 830 L714.5 797.1 L715 792.5 L716 786.3 L716.5 784 L717 783 L717.5 783.5 L718 785 L719 789.8 L719.5 793.6 L722.5 832.6 L723.5 842.5 L724.5 850.2 L726.5 859.5 L728.5 870.3 L730.5 870.1 L731 871.2 L733 889 L735 878 L737 880.8 L739 896.3 L739.5 894.6 L741 885.1 L741.5 884.7 L743.5 885.8 L745.5 890.8 L747 888.4 L747.5 890.5 L749 905 L749.5 904.1 L751 889.9 L751.5 888 L754 887.6 L755 887.6 L755.5 889 L757 895.5 L757.5 895 L759 888 L759.5 887.1 L760.5 886.9 L762.5 891.4 L763 890.5 L764 887.5 L764.5 886.9 L766 888.3 L768 884.7 L769.5 884.5 L771 883.4 L772.5 883.2 L773 884.4 L774.5 890.6 L775 890 L776.5 882.7 L777 881.7 L781.5 880.7 L783.5 894.5 L785.5 880.3 L786.5 880.2 L788.5 883 L790 880.7 L790.5 880.9 L792 885.3 L792.5 885 L794 881.1 L794.5 880.4 L795 880.2 L797 883.4 L798 882.2 L798.5 882.2 L799 882.6 L800 884.5 L800.5 884.7 L802 882 L802.5 881.5 L806 882.7 L806.5 883.2 L808 886 L808.5 886.4 L810 884.8 L810.5 884.6 L813 885.7 L815 888.9 L817 888.2 L827.5 896.3 L834 900.5 L845.5 907.2 L858 913.4 L865 916.5 L872 919 L879.5 921.4 L887 923.3 L896 925.2 L904.5 926.6 L917.5 928.2 L929.5 929.3 L948 930.3 L964 930.9 L1014 931.4" fill="none" stroke="#ff00ff" stroke-width="2.3" stroke-linejoin="round" stroke-linecap="round" />
<line x1="908" y1="548" x2="930.4" y2="548" stroke="#000000" stroke-width="2.4" />
<text x="937" y="554.3" text-anchor="start" font-size="21" fill="#000" >0 min</text>
<line x1="908" y1="569.5" x2="930.4" y2="569.5" stroke="#ff0000" stroke-width="2.4" />
<text x="937" y="575.8" text-anchor="start" font-size="21" fill="#000" >30 min</text>
<line x1="908" y1="591" x2="930.4" y2="591" stroke="#15b4f0" stroke-width="2.4" />
<text x="937" y="597.3" text-anchor="start" font-size="21" fill="#000" >60 min</text>
<line x1="908" y1="612.5" x2="930.4" y2="612.5" stroke="#ff00ff" stroke-width="2.4" />
<text x="937" y="618.8" text-anchor="start" font-size="21" fill="#000" >90 min</text>
<text x="760" y="559.5" text-anchor="start" font-size="21" fill="#000" >Isolated OH</text>
<text x="760" y="587.5" text-anchor="start" font-size="21" fill="#000" >groups</text>
<line x1="753" y1="553" x2="727.94" y2="566.11" stroke="#000" stroke-width="2" />
<path d="M720.5 570 L730.24 558.42 L729.8 565.13 L735.57 568.61 Z" fill="#000"/>
<text x="1004" y="650.3" text-anchor="end" font-size="21" fill="#000" >ZnO+MCM-41</text>
<text x="1004" y="721.8" text-anchor="end" font-size="21" fill="#000" >MCM-41</text>
<text x="1004" y="836.4" text-anchor="end" font-size="21" fill="#000" >ZnO+S-1_1</text>
<text x="1004" y="921.7" text-anchor="end" font-size="21" fill="#000" >S-1_1</text>
<text x="830" y="788.8" text-anchor="start" font-size="21" fill="#000" >OH nests</text>
<line x1="826.4" y1="790" x2="801.96" y2="802.64" stroke="#000" stroke-width="2" />
<path d="M794.5 806.5 L804.29 794.96 L803.83 801.68 L809.58 805.18 Z" fill="#000"/>
<rect x="605.5" y="530.5" width="409.5" height="409" fill="none" stroke="#000" stroke-width="2" />
<text x="5.1" y="1067.2" font-size="35.5" font-weight="bold" stroke="#000" stroke-width="0.7">e</text>
<line x1="73" y1="1410.75" x2="80" y2="1410.75" stroke="#000" stroke-width="2" />
<text x="68" y="1417.25" text-anchor="end" font-size="21" fill="#000" >0.0</text>
<line x1="73" y1="1324.7" x2="80" y2="1324.7" stroke="#000" stroke-width="2" />
<text x="68" y="1331.2" text-anchor="end" font-size="21" fill="#000" >0.5</text>
<line x1="73" y1="1238.65" x2="80" y2="1238.65" stroke="#000" stroke-width="2" />
<text x="68" y="1245.15" text-anchor="end" font-size="21" fill="#000" >1.0</text>
<line x1="73" y1="1152.6" x2="80" y2="1152.6" stroke="#000" stroke-width="2" />
<text x="68" y="1159.1" text-anchor="end" font-size="21" fill="#000" >1.5</text>
<line x1="73" y1="1066.55" x2="80" y2="1066.55" stroke="#000" stroke-width="2" />
<text x="68" y="1073.05" text-anchor="end" font-size="21" fill="#000" >2.0</text>
<line x1="116.5" y1="1462.5" x2="116.5" y2="1469.5" stroke="#000" stroke-width="2" />
<text x="116.5" y="1490" text-anchor="middle" font-size="21" fill="#000" >0.0</text>
<line x1="191.7" y1="1462.5" x2="191.7" y2="1469.5" stroke="#000" stroke-width="2" />
<text x="191.7" y="1490" text-anchor="middle" font-size="21" fill="#000" >0.2</text>
<line x1="266.9" y1="1462.5" x2="266.9" y2="1469.5" stroke="#000" stroke-width="2" />
<text x="266.9" y="1490" text-anchor="middle" font-size="21" fill="#000" >0.4</text>
<line x1="342.1" y1="1462.5" x2="342.1" y2="1469.5" stroke="#000" stroke-width="2" />
<text x="342.1" y="1490" text-anchor="middle" font-size="21" fill="#000" >0.6</text>
<line x1="417.3" y1="1462.5" x2="417.3" y2="1469.5" stroke="#000" stroke-width="2" />
<text x="417.3" y="1490" text-anchor="middle" font-size="21" fill="#000" >0.8</text>
<line x1="492.5" y1="1462.5" x2="492.5" y2="1469.5" stroke="#000" stroke-width="2" />
<text x="492.5" y="1490" text-anchor="middle" font-size="21" fill="#000" >1.0</text>
<text x="286.3" y="1522.7" text-anchor="middle" font-size="21" fill="#000" >OH nests (mmol g<tspan font-size="14.5" baseline-shift="6.7">−1</tspan>)</text>
<text transform="translate(22,1255.8) rotate(-90)" text-anchor="middle" font-size="21"><tspan font-style="italic">r</tspan>(C<tspan font-size="14.5" baseline-shift="-7">3</tspan>H<tspan font-size="14.5" baseline-shift="-7">6</tspan>) (mmol g<tspan font-size="14.5" baseline-shift="6.7">−1</tspan> min<tspan font-size="14.5" baseline-shift="6.7">−1</tspan>)</text>
<rect x="210" y="1295" width="12" height="12" fill="#000" stroke="none" stroke-width="0" />
<rect x="251.2" y="1225.8" width="12" height="12" fill="#000" stroke="none" stroke-width="0" />
<rect x="382.6" y="1158.5" width="12" height="12" fill="#000" stroke="none" stroke-width="0" />
<rect x="397.4" y="1096.6" width="12" height="12" fill="#000" stroke="none" stroke-width="0" />
<rect x="471.3" y="1065.5" width="12" height="12" fill="#000" stroke="none" stroke-width="0" />
<line x1="95.8" y1="1418.9" x2="476.4" y2="1073.7" stroke="#a2a2a2" stroke-width="4.4" stroke-dasharray="19 13.9"/>
<rect x="111.6" y="1404.4" width="10.2" height="9.8" fill="#fff" stroke="#000" stroke-width="1.8" />
<line x1="257.7" y1="1169.7" x2="257.7" y2="1203.5" stroke="#9a9a9a" stroke-width="2" />
<path d="M257.7 1212.5 L251.7 1197.5 L257.7 1201.25 L263.7 1197.5 Z" fill="#9a9a9a"/>
<line x1="386.4" y1="1095" x2="386.4" y2="1130" stroke="#9a9a9a" stroke-width="2" />
<path d="M386.4 1139 L380.4 1124 L386.4 1127.75 L392.4 1124 Z" fill="#9a9a9a"/>
<line x1="407.1" y1="1186.5" x2="407.1" y2="1151.4" stroke="#9a9a9a" stroke-width="2" />
<path d="M407.1 1142.4 L413.1 1157.4 L407.1 1153.65 L401.1 1157.4 Z" fill="#9a9a9a"/>
<line x1="473.8" y1="1128.2" x2="473.8" y2="1093" stroke="#9a9a9a" stroke-width="2" />
<path d="M473.8 1084 L479.8 1099 L473.8 1095.25 L467.8 1099 Z" fill="#9a9a9a"/>
<line x1="215.5" y1="1365" x2="215.5" y2="1330.3" stroke="#9a9a9a" stroke-width="2" />
<path d="M215.5 1321.3 L221.5 1336.3 L215.5 1332.55 L209.5 1336.3 Z" fill="#9a9a9a"/>
<text x="230.5" y="1160.6" text-anchor="start" font-size="21" fill="#000" >S-1_1</text>
<text x="355" y="1084.6" text-anchor="start" font-size="21" fill="#000" >S-1_4</text>
<text x="379.2" y="1208.6" text-anchor="start" font-size="21" fill="#000" >S-1_2</text>
<text x="428.4" y="1147.6" text-anchor="start" font-size="21" fill="#000" >S-1_3</text>
<text x="191.2" y="1389.3" text-anchor="start" font-size="21" fill="#000" >S-1_5</text>
<text x="100.5" y="1442" text-anchor="start" font-size="21" fill="#000" >S-1(Na<tspan font-size="14.5" baseline-shift="6.7">+</tspan>)</text>
<rect x="80" y="1049" width="412.5" height="413.5" fill="none" stroke="#000" stroke-width="2" />
<text x="536.5" y="1066.8" font-size="35.5" font-weight="bold" stroke="#000" stroke-width="0.7">f</text>
<line x1="602.2" y1="1462.6" x2="602.2" y2="1469.6" stroke="#000" stroke-width="2" />
<text x="602.2" y="1490" text-anchor="middle" font-size="21" fill="#000" >0</text>
<line x1="739.5" y1="1462.6" x2="739.5" y2="1469.6" stroke="#000" stroke-width="2" />
<text x="739.5" y="1490" text-anchor="middle" font-size="21" fill="#000" >2</text>
<line x1="876.8" y1="1462.6" x2="876.8" y2="1469.6" stroke="#000" stroke-width="2" />
<text x="876.8" y="1490" text-anchor="middle" font-size="21" fill="#000" >4</text>
<line x1="1014.1" y1="1462.6" x2="1014.1" y2="1469.6" stroke="#000" stroke-width="2" />
<text x="1014.1" y="1490" text-anchor="middle" font-size="21" fill="#000" >6</text>
<text x="809" y="1520.7" text-anchor="middle" font-size="21" fill="#000" ><tspan font-style="italic">r</tspan><tspan dx="-1.8"> (Å)</tspan></text>
<text transform="translate(552.5,1256.8) rotate(-90)" text-anchor="middle" font-size="21">FT <tspan font-style="italic">k</tspan><tspan font-size="14.5" baseline-shift="6.7">2</tspan>-weighted EXAFS (a.u.)</text>
<path d="M602.4 1122.5 L608.9 1122.8 L616.9 1122.9 L619.4 1122.5 L624.9 1121.3 L627.4 1121 L630.4 1121.1 L636.4 1121.8 L638.9 1121.9 L641.4 1121.2 L646.9 1118.4 L649.4 1117.4 L650.9 1117.2 L659.4 1117.2 L660.4 1116.9 L661.4 1116.2 L662.4 1114.9 L666.4 1108.8 L672.4 1100.5 L674.9 1097.6 L676.4 1096.5 L677.9 1095.8 L682.9 1094.5 L684.9 1093.8 L686.4 1092.9 L687.4 1091.8 L689.4 1088.2 L700.9 1063.1 L702.9 1060.1 L703.9 1059.2 L704.9 1058.9 L706.4 1059.5 L707.4 1060.4 L708.4 1061.7 L710.4 1065.1 L713.4 1071.3 L714.4 1074 L715.4 1077.6 L719.4 1094.9 L720.9 1100.4 L721.9 1103 L724.4 1108.4 L725.9 1111 L726.9 1112.3 L727.4 1112.7 L728.4 1113.1 L733.9 1113.7 L735.9 1114.2 L737.9 1115.1 L742.4 1117.7 L743.9 1118.3 L745.4 1118.7 L747.9 1118.5 L754.4 1116.7 L755.9 1116.6 L757.9 1117 L760.4 1118 L762.9 1119.2 L764.4 1120.5 L768.4 1124.6 L769.9 1125.6 L770.9 1126 L771.9 1126.1 L772.9 1125.8 L774.9 1124.2 L777.4 1121.1 L781.4 1114.8 L783.4 1110.4 L788.9 1094 L790.9 1089.1 L794.9 1082 L796.9 1078.9 L798.9 1076.7 L799.9 1076.1 L800.9 1075.8 L802.4 1076.2 L804.4 1078 L806.4 1080.6 L809.4 1085.4 L811.4 1090.1 L816.4 1103.9 L820.9 1113.8 L822.9 1117 L823.9 1117.8 L824.4 1118 L830.9 1118.9 L832.9 1119.5 L834.9 1120.9 L839.9 1125.1 L841.4 1126 L842.4 1126.4 L843.9 1126.4 L845.9 1125.7 L847.9 1124.2 L852.4 1120.2 L853.9 1119.3 L854.9 1118.9 L855.9 1118.7 L858.4 1118.9 L867.9 1120.7 L869.9 1120.8 L871.4 1120.7 L873.4 1120.2 L875.4 1119.4 L882.9 1115.7 L885.4 1114.7 L887.9 1114 L889.9 1113.8 L891.9 1114 L894.4 1114.6 L901.9 1117.8 L904.9 1120.1 L911.9 1126.8 L913.9 1128 L915.9 1128.6 L918.4 1128.5 L920.9 1128 L929.9 1125.3 L933.4 1124.6 L947.4 1124 L949.4 1123.8 L952.9 1122.5 L960.9 1118.4 L962.9 1117.8 L964.9 1117.6 L967.4 1118 L970.4 1119.2 L975.9 1122.2 L980.4 1125.6 L982.4 1126.5 L983.9 1126.4 L985.4 1125.9 L987.4 1124.8 L993.4 1121 L995.4 1120.3 L996.9 1120.2 L1001.4 1120.7 L1005.4 1122 L1009.4 1124.1 L1013.4 1127.1" fill="none" stroke="#ff00ff" stroke-width="2.4" stroke-linejoin="round" stroke-linecap="round" />
<path d="M602.4 1215.5 L605.9 1215.9 L610.9 1217 L615.9 1219.3 L617.9 1219.7 L618.9 1219.5 L620.4 1218.9 L626.4 1214.9 L631.4 1212.9 L633.9 1212.2 L635.9 1212.1 L637.4 1212.5 L643.4 1215.1 L645.4 1215.7 L646.9 1215.9 L648.4 1215.3 L650.4 1213.4 L654.9 1207.6 L661.4 1198.3 L666.4 1193.1 L667.9 1192 L668.9 1191.6 L671.4 1191.2 L676.9 1190.8 L678.9 1190.4 L679.9 1189.7 L681.4 1188 L683.9 1183.8 L686.9 1177.8 L688.4 1173.6 L692.9 1159.2 L693.9 1156.6 L697.9 1147.9 L699.9 1143.9 L701.9 1140.8 L703.4 1139.3 L704.9 1138.8 L705.9 1139 L706.9 1139.5 L708.9 1141.2 L711.9 1145.1 L713.4 1147.4 L714.4 1149.2 L716.9 1156.2 L727.9 1192.7 L729.9 1197.4 L731.9 1200.6 L733.4 1202.5 L734.4 1203.4 L735.4 1203.8 L744.4 1203.2 L747.4 1203.5 L749.9 1204.1 L757.4 1206.7 L765.4 1208.2 L768.4 1208.9 L769.9 1209.8 L771.4 1211.1 L775.9 1216.5 L777.9 1218.6 L779.4 1219.7 L780.4 1220 L781.4 1220 L782.9 1219 L784.4 1217 L787.9 1211.3 L789.4 1209.6 L792.9 1206.7 L795.4 1205 L797.4 1204 L799.4 1203.6 L801.4 1203.9 L803.4 1205 L817.4 1215.9 L819.4 1217.2 L820.9 1217.9 L822.4 1218.3 L823.4 1218.4 L834.4 1218 L835.9 1218.4 L839.4 1219.8 L840.9 1220.1 L842.4 1220 L844.4 1219.5 L852.9 1215.7 L854.9 1215.1 L856.9 1214.8 L861.4 1215.3 L869.4 1217.3 L872.9 1217.9 L892.4 1218.9 L908.9 1219.1 L949.4 1218.6 L977.9 1219.5 L1013.4 1219.7" fill="none" stroke="#15b4f0" stroke-width="2.4" stroke-linejoin="round" stroke-linecap="round" />
<path d="M602.4 1352.5 L629.9 1350.5 L635.9 1349.8 L640.9 1349 L645.4 1347.6 L649.9 1345.6 L655.9 1342.1 L660.4 1339 L663.4 1336 L667.4 1331.4 L673.9 1321.4 L675.9 1318.8 L678.4 1316.7 L683.9 1313.3 L685.4 1311.9 L686.4 1310.6 L687.4 1308.4 L688.4 1305.6 L693.4 1287.9 L699.9 1271.3 L701.9 1266.9 L703.9 1263.5 L705.4 1261.8 L706.9 1261.2 L707.4 1261.2 L708.4 1261.7 L709.4 1262.7 L710.4 1264.1 L712.9 1268.9 L715.9 1275.9 L716.9 1279.3 L718.4 1285.9 L722.9 1310.5 L724.9 1319.8 L725.9 1323.3 L729.4 1333.4 L730.9 1337.1 L732.4 1339.9 L733.9 1341.4 L734.9 1341.5 L736.9 1341 L742.4 1338.5 L744.4 1338.3 L745.9 1338.7 L748.4 1340.3 L753.9 1344.9 L760.4 1352.5 L762.9 1354.9 L764.4 1355.9 L765.4 1356.2 L766.4 1356.3 L767.4 1356 L768.4 1355.3 L769.4 1354.2 L771.4 1351.1 L774.9 1344 L775.9 1340.6 L776.9 1335.9 L778.4 1327.1 L783.9 1290 L784.9 1284.8 L791.4 1255.1 L793.9 1244.9 L796.4 1236.8 L797.9 1233.3 L798.9 1231.8 L799.9 1230.8 L800.9 1230.6 L801.9 1231.1 L802.9 1232.3 L804.9 1236.2 L808.4 1245.7 L809.9 1251 L811.9 1260.8 L816.4 1287 L820.4 1315 L821.9 1324.1 L822.9 1328.8 L825.4 1337.2 L826.4 1339.5 L826.9 1340.2 L827.4 1340.5 L828.4 1340.4 L829.4 1340 L834.4 1337 L835.4 1336.7 L836.4 1336.7 L837.9 1337.3 L839.4 1338.4 L844.4 1343.4 L845.9 1344.7 L847.9 1345.6 L849.4 1345.6 L850.9 1345 L852.4 1343.8 L858.4 1337.5 L860.9 1335.4 L863.4 1334.3 L870.4 1331.7 L872.9 1330.2 L878.4 1326.3 L880.9 1324.9 L882.9 1324.2 L884.9 1324 L886.4 1324.5 L888.4 1325.7 L894.4 1331.4 L895.9 1333.4 L897.9 1336.7 L904.4 1349.2 L906.9 1353.4 L908.4 1355.6 L909.9 1357.2 L911.4 1358.3 L912.4 1358.7 L914.4 1358.7 L916.4 1358.1 L918.4 1357.1 L924.4 1353.7 L926.4 1352.9 L927.9 1352.6 L931.9 1352.7 L941.9 1354.1 L944.4 1354.2 L945.9 1353.7 L947.9 1352.7 L950.4 1350.6 L957.9 1342.6 L960.9 1339.8 L963.4 1338.3 L964.9 1337.8 L965.9 1337.7 L968.4 1337.9 L970.9 1338.5 L980.9 1342.3 L989.9 1344.9 L994.4 1346.4 L1003.9 1350.2 L1013.4 1354.8" fill="none" stroke="#ff0000" stroke-width="2.4" stroke-linejoin="round" stroke-linecap="round" />
<path d="M602.4 1446.8 L606.4 1447.8 L610.4 1448.2 L612.9 1448 L617.9 1447 L619.9 1446.8 L631.4 1447.6 L633.9 1447.3 L639.9 1445.9 L642.4 1445.6 L645.4 1445.6 L652.4 1446.1 L654.9 1445.9 L657.4 1445.3 L664.4 1442.8 L667.4 1442.3 L680.4 1442.3 L687.4 1441 L689.9 1440.8 L693.4 1441.1 L700.4 1442.2 L703.9 1442.2 L706.9 1441.7 L713.4 1439.8 L721.9 1438 L726.4 1436.4 L728.9 1434.5 L731.4 1431.4 L734.4 1426.7 L737.4 1421.3 L738.9 1417.5 L740.4 1412.9 L746.4 1392.2 L748.9 1385.6 L753.4 1377.1 L756.4 1372.3 L757.9 1370.6 L758.9 1369.7 L759.9 1369.2 L760.9 1369 L761.9 1369.2 L762.9 1369.9 L764.9 1372.4 L767.4 1376.7 L771.4 1384.9 L773.9 1391.8 L779.4 1409.8 L785.9 1428.7 L787.9 1433.9 L789.9 1437.7 L790.9 1438.8 L792.4 1439.6 L794.4 1440.2 L800.9 1441.8 L810.4 1445.4 L812.4 1445.9 L814.4 1446.1 L816.9 1446 L819.4 1445.6 L823.9 1444.4 L832.9 1441.2 L836.9 1440.1 L848.9 1437.3 L852.4 1436.8 L855.4 1436.6 L857.9 1436.8 L860.4 1437.6 L862.9 1438.8 L868.9 1442.2 L871.4 1443.3 L873.9 1443.9 L875.9 1444 L878.4 1443.4 L880.9 1442.3 L889.4 1437.2 L892.4 1435.6 L894.9 1434.8 L897.4 1434.5 L900.9 1434.8 L904.9 1435.6 L917.4 1439.5 L921.4 1440.5 L924.9 1441.1 L927.9 1441.3 L930.9 1441 L933.9 1440.2 L943.4 1436.2 L946.4 1435.2 L949.4 1434.6 L952.4 1434.6 L954.9 1435 L957.4 1435.7 L968.4 1440.3 L970.9 1441.1 L973.4 1441.7 L976.9 1441.9 L998.9 1442.4 L1004.9 1443.3 L1013.4 1445.1" fill="none" stroke="#000" stroke-width="2.4" stroke-linejoin="round" stroke-linecap="round" />
<text x="1003" y="1101.4" text-anchor="end" font-size="21" fill="#000" >MCM-41(H<tspan font-size="14.5" baseline-shift="-7">2</tspan>)</text>
<text x="1005" y="1200" text-anchor="end" font-size="21" fill="#000" >S-1_1(H<tspan font-size="14.5" baseline-shift="-7">2</tspan>)</text>
<text x="999.5" y="1325.7" text-anchor="end" font-size="21" fill="#000" >ZnO</text>
<text x="1004.3" y="1425.4" text-anchor="end" font-size="21" fill="#000" >Zn foil</text>
<rect x="602.2" y="1050" width="411.9" height="412.6" fill="none" stroke="#000" stroke-width="2" />
<text x="4.8" y="1588.6" font-size="35.5" font-weight="bold" stroke="#000" stroke-width="0.7">g</text>
<line x1="78" y1="1969" x2="78" y2="1976" stroke="#000" stroke-width="2" />
<text x="78" y="1995.5" text-anchor="middle" font-size="21" fill="#000" >9,650</text>
<line x1="181.6" y1="1969" x2="181.6" y2="1976" stroke="#000" stroke-width="2" />
<text x="181.6" y="1995.5" text-anchor="middle" font-size="21" fill="#000" >9,660</text>
<line x1="285.2" y1="1969" x2="285.2" y2="1976" stroke="#000" stroke-width="2" />
<text x="285.2" y="1995.5" text-anchor="middle" font-size="21" fill="#000" >9,670</text>
<line x1="388.8" y1="1969" x2="388.8" y2="1976" stroke="#000" stroke-width="2" />
<text x="388.8" y="1995.5" text-anchor="middle" font-size="21" fill="#000" >9,680</text>
<line x1="492.4" y1="1969" x2="492.4" y2="1976" stroke="#000" stroke-width="2" />
<text x="492.4" y="1995.5" text-anchor="middle" font-size="21" fill="#000" >9,690</text>
<text x="285.3" y="2028.8" text-anchor="middle" font-size="21" fill="#000" >Energy (eV)</text>
<text transform="translate(21.8,1767.5) rotate(-90)" text-anchor="middle" font-size="21">Normalized intensity (a.u.)</text>
<path d="M78 1962 L89.5 1960.5 L103 1957.8 L113.5 1954.9 L123 1951.9 L127 1950.4 L131.5 1948.1 L136 1944.7 L138.5 1942.3 L141.5 1939.1 L143.5 1936.7 L145.5 1933.9 L149.5 1927.1 L154 1917.8 L157 1909.8 L161 1897.2 L164.5 1885 L167 1875.1 L179.5 1820.4 L185 1797.3 L186.5 1792 L188 1787.5 L190 1782.3 L192.5 1776.6 L197 1767.5 L202 1758.5 L208 1749.1 L213.5 1741.4 L229.5 1720.9 L246 1700.2 L249 1697 L252.5 1693.6 L257.5 1689.5 L259.5 1688.2 L261 1687.5 L264 1686.7 L266 1686.3 L268 1686.3 L269.5 1686.6 L271 1687.3 L275 1689.7 L277.5 1692.2 L286 1701.9 L290.5 1707.7 L296 1715.7 L300 1720.4 L303.5 1723.7 L307 1726.5 L311 1729.3 L315 1731.5 L320.5 1733.9 L325 1735.2 L330.5 1736 L349.5 1738.1 L355.5 1739.1 L359.5 1740.3 L370 1744.2 L383.5 1748.6 L388 1750 L392 1751 L406.5 1753 L412.5 1753.5 L418 1753.7 L422.5 1753.7 L427.5 1753.4 L441 1751.9 L450.5 1749.9 L460.5 1747.3 L468.5 1745.1 L480.5 1741.1 L492.5 1736.2" fill="none" stroke="#000" stroke-width="2.3" stroke-linejoin="round" stroke-linecap="round" />
<path d="M78 1962.3 L96 1960.4 L120.5 1957 L130 1955.1 L135 1953.3 L140 1950.7 L146.5 1946.7 L150.5 1943.8 L154.5 1940.3 L158.5 1936.2 L162 1931.9 L165 1927.5 L168 1922 L171.5 1914.4 L174.5 1906.2 L177 1897 L180 1883.3 L181.5 1875.4 L183 1865.5 L191.5 1803 L195 1780.3 L197.5 1765.7 L200.5 1751.1 L207 1725.7 L212 1697 L213 1693.6 L213.5 1692.6 L214.5 1691.9 L217.5 1690.8 L220 1690.5 L221 1690.9 L223.5 1692.3 L226.5 1693.6 L228.5 1694.2 L233.5 1694.2 L239 1693.8 L243 1692.8 L250.5 1689.8 L260 1684.8 L268 1681.8 L271 1681 L273.5 1680.6 L276 1680.5 L278.5 1680.9 L282.5 1681.9 L293 1685.5 L307 1691.3 L313 1693.6 L335.5 1701.2 L355.5 1708.5 L365 1711.5 L394.5 1719.1 L449.5 1732.7 L471 1737.6 L492.5 1742" fill="none" stroke="#7b6b85" stroke-width="2.3" stroke-linejoin="round" stroke-linecap="round" />
<path d="M78 1962.4 L96.5 1960.6 L120 1957.4 L130 1955.4 L136 1953.4 L141.5 1950.8 L148.5 1946.8 L153 1943.8 L157 1940.6 L161 1936.7 L164.5 1932.7 L167.5 1928.4 L170 1923.9 L174 1915.2 L177 1906.9 L180 1895.3 L183 1880.6 L185.5 1864.9 L193.5 1805.5 L199 1768.1 L202 1751.6 L208 1725.2 L212.5 1698 L213.5 1693.8 L214 1692.5 L215 1690.7 L216 1689.3 L217.5 1687.6 L220 1685.9 L223 1684.7 L226 1684.2 L230 1683.8 L237.5 1683.5 L240 1683 L242.5 1681.9 L248 1679 L256.5 1673.3 L264 1669.5 L266.5 1668.6 L269 1668.1 L271 1668 L273.5 1668.4 L277 1669.5 L281.5 1671.1 L289 1675.5 L294.5 1678 L321.5 1688.1 L352 1702.6 L358 1705.2 L363.5 1707.3 L371.5 1709.9 L389 1715.2 L435.5 1730.2 L449 1734.3 L471.5 1740.3 L492.5 1745" fill="none" stroke="#7a19ff" stroke-width="2.3" stroke-linejoin="round" stroke-linecap="round" />
<path d="M78 1962.5 L96.5 1960.7 L119.5 1957.7 L130 1955.6 L133.5 1954.6 L137 1953.3 L142.5 1950.8 L149 1947.3 L154 1944.2 L158.5 1940.8 L162.5 1937.2 L166 1933.3 L169 1929.1 L171.5 1924.8 L175.5 1916.1 L177.5 1910.8 L179 1906.2 L182 1893.8 L185 1878.5 L187 1865.4 L195 1805.9 L200.5 1766.6 L203 1751.9 L208.5 1725.7 L212 1703.1 L213.5 1695.1 L214 1693.2 L215 1690.6 L216 1688.5 L217.5 1686.1 L222.5 1679.3 L223.5 1678.4 L225.5 1677.1 L227.5 1676.2 L229.5 1675.6 L239.5 1674.6 L241.5 1674.2 L243.5 1673.5 L251.5 1669.8 L265 1662.1 L267.5 1661 L269 1660.6 L270.5 1660.5 L274.5 1661.2 L280 1663 L282 1663.9 L289 1668.4 L292 1670.1 L332 1691.4 L350.5 1700.7 L360 1705 L369.5 1708.4 L388.5 1714.5 L418 1724.5 L444.5 1734 L452.5 1736.7 L473.5 1742.8 L492.5 1747.5" fill="none" stroke="#14147f" stroke-width="2.3" stroke-linejoin="round" stroke-linecap="round" />
<path d="M78 1962.7 L96.5 1961 L119.5 1958.1 L130.5 1955.9 L134.5 1954.8 L139 1953.2 L145 1950.6 L152 1947 L158.5 1943.3 L163 1940.2 L167 1936.7 L170.5 1932.9 L173 1929.4 L175.5 1924.9 L177.5 1920.6 L179.5 1915.7 L182.5 1906.8 L185 1896.1 L188.5 1877.3 L196.5 1818.9 L204 1759.8 L205.5 1750 L210 1723.9 L213 1701.6 L214 1695.5 L215 1691.2 L216 1688.1 L222.5 1672.8 L224 1670 L226.5 1666.3 L228 1664.5 L229.5 1663.3 L232 1662.3 L234.5 1661.7 L242.5 1661 L246 1660.2 L256 1656.1 L262.5 1652.6 L265.5 1651.5 L267.5 1651.2 L269.5 1651.4 L274.5 1652.8 L276 1653.4 L278 1654.6 L285 1660 L295 1666.8 L301.5 1670.9 L319.5 1680.7 L336 1690.3 L347.5 1696.7 L358.5 1702.3 L369.5 1706.8 L388.5 1713.5 L420 1725 L429 1728.7 L449 1737.6 L459 1741.5 L476.5 1747.8 L492.5 1753" fill="none" stroke="#7fd81e" stroke-width="2.3" stroke-linejoin="round" stroke-linecap="round" />
<path d="M78 1962.9 L96.5 1961.3 L119 1958.5 L125.5 1957.3 L131 1956.1 L135.5 1954.9 L140 1953.3 L146.5 1950.6 L154 1946.9 L161.5 1942.8 L166.5 1939.6 L170 1936.7 L173.5 1933 L176 1929.5 L178.5 1924.9 L182 1916.6 L185 1907.7 L187.5 1896.6 L191 1877 L200 1810.5 L206.5 1754.3 L210.5 1726.7 L213.5 1702.1 L215 1692.3 L216 1688 L219 1678 L222 1666.3 L223.5 1661.3 L225.5 1656.6 L227.5 1652.7 L229 1650.7 L230 1650 L234.5 1649 L246 1647.7 L249 1647.2 L255.5 1645.3 L260.5 1643.4 L262.5 1643 L265 1643.1 L268 1643.6 L271 1644.5 L275 1646 L276.5 1646.9 L278 1648.2 L283 1654 L285 1656 L291 1660.8 L297.5 1665.4 L304.5 1669.6 L320 1677.5 L339 1689.4 L349.5 1695.5 L356.5 1699.3 L362 1701.9 L369 1704.9 L388 1712.2 L419.5 1724.7 L428.5 1728.7 L447.5 1737.6 L456 1741.4 L474.5 1749.2 L492.5 1756.2" fill="none" stroke="#ff19ff" stroke-width="2.3" stroke-linejoin="round" stroke-linecap="round" />
<path d="M78 1963 L87 1962.4 L96.5 1961.5 L118.5 1958.8 L125 1957.7 L131 1956.5 L136 1955.1 L141 1953.4 L148 1950.6 L155.5 1947.1 L165 1942.1 L170 1939 L174 1935.7 L177 1932.5 L179 1929.6 L181.5 1924.8 L185 1916.2 L187 1910.3 L188 1906.6 L190.5 1894.5 L194 1873.2 L203 1805.6 L208 1756 L211.5 1726.1 L214.5 1698.3 L216.5 1684.7 L219 1671.7 L220.5 1665.6 L222 1660.4 L227.5 1645.3 L229 1642.3 L230 1641.2 L232.5 1640.3 L235.5 1639.6 L245 1639.3 L247.5 1639 L260 1635.6 L262.5 1635.1 L264 1635 L265.5 1635.2 L268.5 1636.2 L272.5 1638.3 L274 1639.4 L276.5 1642.1 L282.5 1649.7 L285 1652.5 L291.5 1658.2 L303 1667.3 L313.5 1675 L324.5 1682.5 L337 1690.3 L346 1695.5 L353.5 1699.3 L361.5 1702.7 L406.5 1718.7 L420 1724 L433.5 1729.6 L449 1736.5 L463 1743.2 L477.5 1750.6 L492.5 1758.8" fill="none" stroke="#19b4f5" stroke-width="2.3" stroke-linejoin="round" stroke-linecap="round" />
<path d="M78 1964.5 L109 1963.6 L119.5 1963.1 L129 1962.4 L134 1961.8 L139 1960.9 L146 1959.3 L151 1957.8 L155.5 1956.1 L159 1954.4 L162.5 1952 L166 1949 L170 1944.8 L174 1940 L176.5 1936.3 L179.5 1930.9 L184.5 1920.1 L188.5 1909.7 L190.5 1903.4 L192.5 1896.2 L195.5 1883.1 L198 1867.8 L203.5 1829.1 L207 1802.2 L211 1767.9 L213.5 1752.8 L215.5 1743.6 L218 1735.9 L219.5 1732.3 L221.5 1728.2 L224 1724.3 L228.5 1718.7 L234 1711.3 L236.5 1706.9 L238 1703.2 L243.5 1687 L248 1671 L252.5 1652.6 L261.5 1612 L265.5 1597.2 L269 1586.6 L271 1581.6 L272 1580 L273 1578.9 L274.5 1577.6 L276 1576.6 L277.5 1576.2 L278.5 1576.4 L280 1577.2 L281.5 1578.6 L283 1581.7 L285 1587.5 L287 1594.5 L291.5 1614 L293.5 1621.8 L307.5 1671.7 L315 1695.6 L323.5 1719.7 L326.5 1727 L330.5 1734.2 L334.5 1739.9 L337.5 1743.5 L339.5 1745.5 L341 1746.5 L343.5 1747.5 L345.5 1748 L347 1747.9 L349 1747.2 L352 1745.5 L353.5 1744.5 L355.5 1742.8 L358 1740.1 L360.5 1736.7 L362.5 1732.7 L366.5 1723 L369 1718.1 L373 1711.1 L378 1703.7 L380.5 1700.7 L382.5 1699.2 L385 1697.8 L387 1696.9 L388.5 1696.6 L390 1696.5 L392 1696.9 L394 1697.7 L398 1699.5 L401 1701.2 L409.5 1707.2 L427 1718.4 L431 1721.4 L442.5 1730.7 L446 1733.2 L451 1736.3 L459 1740.8 L472.5 1747.9 L483 1753.1 L492.5 1757.5" fill="none" stroke="#ff0000" stroke-width="2.3" stroke-linejoin="round" stroke-linecap="round" />
<line x1="225" y1="1775.85" x2="244.8" y2="1775.85" stroke="#000" stroke-width="2.4" />
<text x="250.3" y="1782.15" text-anchor="start" font-size="21" fill="#000" >Zn foil</text>
<line x1="225" y1="1797.65" x2="244.8" y2="1797.65" stroke="#ff0000" stroke-width="2.4" />
<text x="250.3" y="1803.95" text-anchor="start" font-size="21" fill="#000" >ZnO</text>
<line x1="225" y1="1819" x2="244.8" y2="1819" stroke="#19b4f5" stroke-width="2.4" />
<text x="250.3" y="1825.3" text-anchor="start" font-size="21" fill="#000" style="letter-spacing:-0.45px">S-1_1(H<tspan font-size="14.5" baseline-shift="-7">2</tspan>)_air</text>
<line x1="225" y1="1844.15" x2="244.8" y2="1844.15" stroke="#ff19ff" stroke-width="2.4" />
<text x="250.3" y="1850.45" text-anchor="start" font-size="21" fill="#000" style="letter-spacing:-0.45px">S-1_1(H<tspan font-size="14.5" baseline-shift="-7">2</tspan>)_(H<tspan font-size="14.5" baseline-shift="-7">2</tspan>)_100 °C</text>
<line x1="225" y1="1869.2" x2="244.8" y2="1869.2" stroke="#7fd81e" stroke-width="2.4" />
<text x="250.3" y="1875.5" text-anchor="start" font-size="21" fill="#000" style="letter-spacing:-0.45px">S-1_1(H<tspan font-size="14.5" baseline-shift="-7">2</tspan>)_(H<tspan font-size="14.5" baseline-shift="-7">2</tspan>)_200 °C</text>
<line x1="225" y1="1894.7" x2="244.8" y2="1894.7" stroke="#14147f" stroke-width="2.4" />
<text x="250.3" y="1901" text-anchor="start" font-size="21" fill="#000" style="letter-spacing:-0.45px">S-1_1(H<tspan font-size="14.5" baseline-shift="-7">2</tspan>)_(H<tspan font-size="14.5" baseline-shift="-7">2</tspan>)_300 °C</text>
<line x1="225" y1="1919.75" x2="244.8" y2="1919.75" stroke="#7a19ff" stroke-width="2.4" />
<text x="250.3" y="1926.05" text-anchor="start" font-size="21" fill="#000" style="letter-spacing:-0.45px">S-1_1(H<tspan font-size="14.5" baseline-shift="-7">2</tspan>)_(H<tspan font-size="14.5" baseline-shift="-7">2</tspan>)_400 °C</text>
<line x1="225" y1="1944.9" x2="244.8" y2="1944.9" stroke="#7b6b85" stroke-width="2.4" />
<text x="250.3" y="1951.2" text-anchor="start" font-size="21" fill="#000" style="letter-spacing:-0.45px">S-1_1(H<tspan font-size="14.5" baseline-shift="-7">2</tspan>)_(H<tspan font-size="14.5" baseline-shift="-7">2</tspan>)_500 °C</text>
<rect x="78" y="1565.5" width="414.5" height="403.5" fill="none" stroke="#000" stroke-width="2" />
<text x="536.8" y="1588.8" font-size="35.5" font-weight="bold" stroke="#000" stroke-width="0.7">h</text>
<line x1="592" y1="1967.3" x2="598.5" y2="1967.3" stroke="#000" stroke-width="2" />
<text x="587" y="1973.6" text-anchor="end" font-size="21" fill="#000" >0.1</text>
<line x1="592" y1="1857.5" x2="598.5" y2="1857.5" stroke="#000" stroke-width="2" />
<text x="587" y="1863.8" text-anchor="end" font-size="21" fill="#000" >1</text>
<line x1="592" y1="1747.7" x2="598.5" y2="1747.7" stroke="#000" stroke-width="2" />
<text x="587" y="1754" text-anchor="end" font-size="21" fill="#000" >10</text>
<line x1="592" y1="1637.9" x2="598.5" y2="1637.9" stroke="#000" stroke-width="2" />
<text x="587" y="1644.2" text-anchor="end" font-size="21" fill="#000" >100</text>
<text transform="translate(552.9,1767.7) rotate(-90)" text-anchor="middle" font-size="21">TOF (h<tspan font-size="14.5" baseline-shift="6.7">−1</tspan>)</text>
<rect x="635.2" y="1869.96" width="31" height="98.04" fill="#9bb8e0" stroke="#000" stroke-width="1.8" />
<text x="652.2" y="1863.16" text-anchor="middle" font-size="21" fill="#000" >0.77</text>
<rect x="739.5" y="1813.43" width="31" height="154.57" fill="#9bb8e0" stroke="#000" stroke-width="1.8" />
<text x="756.5" y="1806.63" text-anchor="middle" font-size="21" fill="#000" >2.52</text>
<rect x="843.7" y="1635.57" width="31" height="332.43" fill="#9bb8e0" stroke="#000" stroke-width="1.8" />
<text x="860.7" y="1628.77" text-anchor="middle" font-size="21" fill="#000" >105</text>
<rect x="948.2" y="1596.35" width="31" height="371.65" fill="#9bb8e0" stroke="#000" stroke-width="1.8" />
<text x="965.2" y="1589.55" text-anchor="middle" font-size="21" fill="#000" >239</text>
<rect x="598.5" y="1566" width="416.5" height="402" fill="none" stroke="#000" stroke-width="2" />
<text transform="translate(660.2,1978.5) rotate(-45)" text-anchor="end" font-size="21" fill="#000">Single ZnO<tspan font-size="14.5" baseline-shift="-7"><tspan font-style="italic">x</tspan></tspan>/SiO<tspan font-size="14.5" baseline-shift="-7">2</tspan></text>
<text transform="translate(764.5,1978.5) rotate(-45)" text-anchor="end" font-size="21" fill="#000">ZnO NP/MCM-41</text>
<text transform="translate(868.7,1978.5) rotate(-45)" text-anchor="end" font-size="21" fill="#000">Single ZnO<tspan font-size="14.5" baseline-shift="-7"><tspan font-style="italic">x</tspan></tspan>/TiZrO<tspan font-size="14.5" baseline-shift="-7"><tspan font-style="italic">x</tspan></tspan></text>
<text transform="translate(973.2,1978.5) rotate(-45)" text-anchor="end" font-size="21" fill="#000">Binuclear ZnO<tspan font-size="14.5" baseline-shift="-7"><tspan font-style="italic">x</tspan></tspan>/S-1_1</text>
</svg>
</body></html>
